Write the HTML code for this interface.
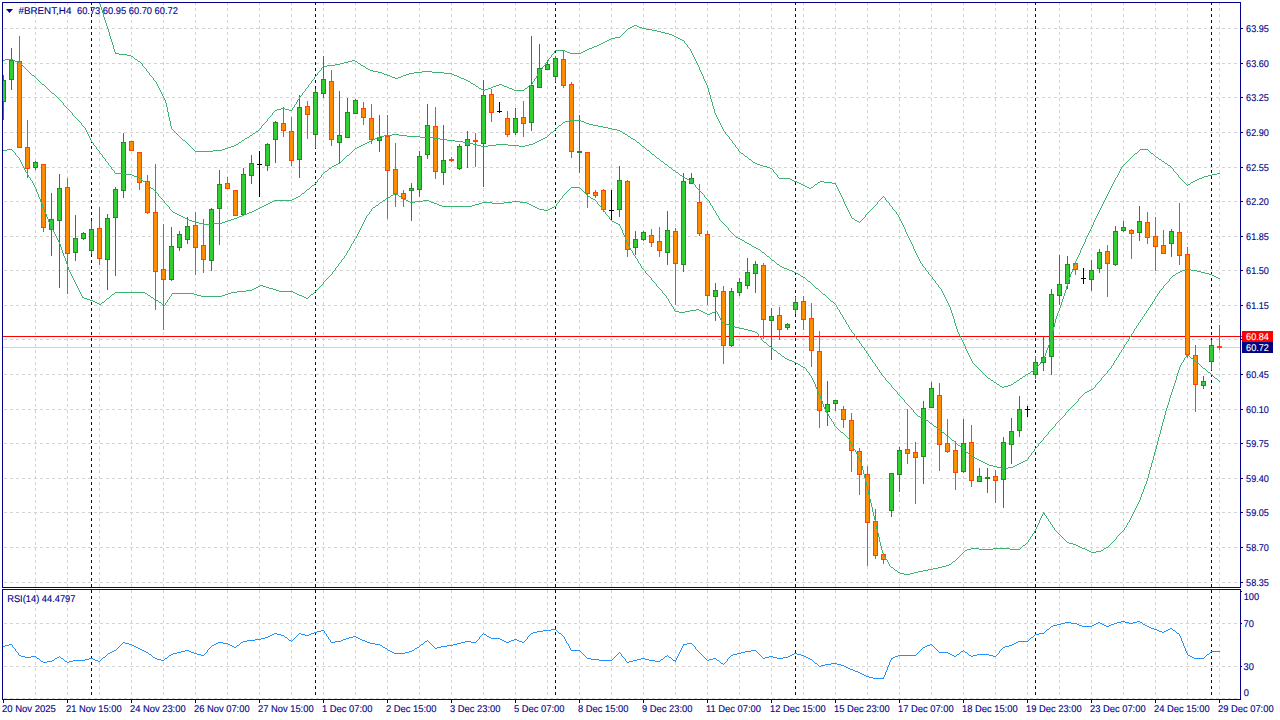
<!DOCTYPE html>
<html><head><meta charset="utf-8"><title>#BRENT,H4</title>
<style>html,body{margin:0;padding:0;background:#fff;overflow:hidden}svg{display:block}</style></head>
<body>
<svg width="1280" height="720" viewBox="0 0 1280 720">
<rect width="1280" height="720" fill="#fff"/>
<g shape-rendering="crispEdges">
<g stroke="#D3D3D3" stroke-width="1" stroke-dasharray="3 3" fill="none">
<path d="M35.5 2V698"/>
<path d="M67.5 2V698"/>
<path d="M99.5 2V698"/>
<path d="M131.5 2V698"/>
<path d="M163.5 2V698"/>
<path d="M195.5 2V698"/>
<path d="M227.5 2V698"/>
<path d="M259.5 2V698"/>
<path d="M291.5 2V698"/>
<path d="M323.5 2V698"/>
<path d="M355.5 2V698"/>
<path d="M387.5 2V698"/>
<path d="M419.5 2V698"/>
<path d="M451.5 2V698"/>
<path d="M483.5 2V698"/>
<path d="M515.5 2V698"/>
<path d="M547.5 2V698"/>
<path d="M579.5 2V698"/>
<path d="M611.5 2V698"/>
<path d="M643.5 2V698"/>
<path d="M675.5 2V698"/>
<path d="M707.5 2V698"/>
<path d="M739.5 2V698"/>
<path d="M771.5 2V698"/>
<path d="M803.5 2V698"/>
<path d="M835.5 2V698"/>
<path d="M867.5 2V698"/>
<path d="M899.5 2V698"/>
<path d="M931.5 2V698"/>
<path d="M963.5 2V698"/>
<path d="M995.5 2V698"/>
<path d="M1027.5 2V698"/>
<path d="M1059.5 2V698"/>
<path d="M1091.5 2V698"/>
<path d="M1123.5 2V698"/>
<path d="M1155.5 2V698"/>
<path d="M1187.5 2V698"/>
<path d="M1219.5 2V698"/>
<path d="M4 28.5H1240"/>
<path d="M4 63.5H1240"/>
<path d="M4 97.5H1240"/>
<path d="M4 132.5H1240"/>
<path d="M4 167.5H1240"/>
<path d="M4 201.5H1240"/>
<path d="M4 236.5H1240"/>
<path d="M4 270.5H1240"/>
<path d="M4 305.5H1240"/>
<path d="M4 339.5H1240"/>
<path d="M4 374.5H1240"/>
<path d="M4 409.5H1240"/>
<path d="M4 443.5H1240"/>
<path d="M4 478.5H1240"/>
<path d="M4 512.5H1240"/>
<path d="M4 547.5H1240"/>
<path d="M4 582.5H1240"/>
<path d="M4 623.5H1240"/>
<path d="M4 666.5H1240"/>
<path d="M4 698.5H1240"/>
</g>
<g stroke="#00008B" stroke-width="1" stroke-dasharray="3 3" fill="none">
<path d="M91.5 2V698"/>
<path d="M315.5 2V698"/>
<path d="M555.5 2V698"/>
<path d="M795.5 2V698"/>
<path d="M1035.5 2V698"/>
<path d="M1211.5 2V698"/>
</g>
<rect x="0" y="588" width="1280" height="1" fill="#fff"/>
<rect x="3" y="347" width="1237" height="1" fill="#D3D3D3"/>
<rect x="3" y="336" width="1239" height="1" fill="#FF0000"/>
<clipPath id="cm"><rect x="3" y="3" width="1237" height="584"/></clipPath>
<g clip-path="url(#cm)">
<rect x="3" y="75" width="1" height="45" fill="#228B22"/>
<rect x="1" y="80" width="5" height="22" fill="#228B22"/>
<rect x="2" y="81" width="3" height="20" fill="#32CD32"/>
<rect x="11" y="48" width="1" height="42" fill="#228B22"/>
<rect x="9" y="60" width="5" height="20" fill="#228B22"/>
<rect x="10" y="61" width="3" height="18" fill="#32CD32"/>
<rect x="19" y="36" width="1" height="112" fill="#FF4500"/>
<rect x="17" y="61" width="5" height="87" fill="#FF4500"/>
<rect x="18" y="62" width="3" height="85" fill="#FF8C00"/>
<rect x="27" y="120" width="1" height="58" fill="#FF4500"/>
<rect x="25" y="147" width="5" height="22" fill="#FF4500"/>
<rect x="26" y="148" width="3" height="20" fill="#FF8C00"/>
<rect x="35" y="161" width="1" height="9" fill="#228B22"/>
<rect x="33" y="162" width="5" height="6" fill="#228B22"/>
<rect x="34" y="163" width="3" height="4" fill="#32CD32"/>
<rect x="43" y="164" width="1" height="68" fill="#FF4500"/>
<rect x="41" y="164" width="5" height="64" fill="#FF4500"/>
<rect x="42" y="165" width="3" height="62" fill="#FF8C00"/>
<rect x="51" y="193" width="1" height="63" fill="#228B22"/>
<rect x="49" y="219" width="5" height="11" fill="#228B22"/>
<rect x="50" y="220" width="3" height="9" fill="#32CD32"/>
<rect x="59" y="174" width="1" height="114" fill="#228B22"/>
<rect x="57" y="188" width="5" height="33" fill="#228B22"/>
<rect x="58" y="189" width="3" height="31" fill="#32CD32"/>
<rect x="67" y="178" width="1" height="116" fill="#FF4500"/>
<rect x="65" y="187" width="5" height="67" fill="#FF4500"/>
<rect x="66" y="188" width="3" height="65" fill="#FF8C00"/>
<rect x="75" y="215" width="1" height="46" fill="#228B22"/>
<rect x="73" y="238" width="5" height="15" fill="#228B22"/>
<rect x="74" y="239" width="3" height="13" fill="#32CD32"/>
<rect x="83" y="232" width="1" height="8" fill="#228B22"/>
<rect x="81" y="233" width="5" height="6" fill="#228B22"/>
<rect x="82" y="234" width="3" height="4" fill="#32CD32"/>
<rect x="91" y="221" width="1" height="33" fill="#228B22"/>
<rect x="89" y="229" width="5" height="22" fill="#228B22"/>
<rect x="90" y="230" width="3" height="20" fill="#32CD32"/>
<rect x="99" y="207" width="1" height="58" fill="#FF4500"/>
<rect x="97" y="228" width="5" height="31" fill="#FF4500"/>
<rect x="98" y="229" width="3" height="29" fill="#FF8C00"/>
<rect x="107" y="214" width="1" height="76" fill="#228B22"/>
<rect x="105" y="218" width="5" height="42" fill="#228B22"/>
<rect x="106" y="219" width="3" height="40" fill="#32CD32"/>
<rect x="115" y="187" width="1" height="89" fill="#228B22"/>
<rect x="113" y="189" width="5" height="29" fill="#228B22"/>
<rect x="114" y="190" width="3" height="27" fill="#32CD32"/>
<rect x="123" y="133" width="1" height="65" fill="#228B22"/>
<rect x="121" y="142" width="5" height="49" fill="#228B22"/>
<rect x="122" y="143" width="3" height="47" fill="#32CD32"/>
<rect x="131" y="141" width="1" height="10" fill="#FF4500"/>
<rect x="129" y="141" width="5" height="10" fill="#FF4500"/>
<rect x="130" y="142" width="3" height="8" fill="#FF8C00"/>
<rect x="139" y="152" width="1" height="38" fill="#FF4500"/>
<rect x="137" y="152" width="5" height="31" fill="#FF4500"/>
<rect x="138" y="153" width="3" height="29" fill="#FF8C00"/>
<rect x="147" y="175" width="1" height="39" fill="#FF4500"/>
<rect x="145" y="181" width="5" height="32" fill="#FF4500"/>
<rect x="146" y="182" width="3" height="30" fill="#FF8C00"/>
<rect x="155" y="164" width="1" height="146" fill="#FF4500"/>
<rect x="153" y="212" width="5" height="60" fill="#FF4500"/>
<rect x="154" y="213" width="3" height="58" fill="#FF8C00"/>
<rect x="163" y="224" width="1" height="106" fill="#FF4500"/>
<rect x="161" y="269" width="5" height="11" fill="#FF4500"/>
<rect x="162" y="270" width="3" height="9" fill="#FF8C00"/>
<rect x="171" y="227" width="1" height="54" fill="#228B22"/>
<rect x="169" y="246" width="5" height="34" fill="#228B22"/>
<rect x="170" y="247" width="3" height="32" fill="#32CD32"/>
<rect x="179" y="231" width="1" height="20" fill="#228B22"/>
<rect x="177" y="234" width="5" height="14" fill="#228B22"/>
<rect x="178" y="235" width="3" height="12" fill="#32CD32"/>
<rect x="187" y="217" width="1" height="27" fill="#228B22"/>
<rect x="185" y="226" width="5" height="14" fill="#228B22"/>
<rect x="186" y="227" width="3" height="12" fill="#32CD32"/>
<rect x="195" y="212" width="1" height="63" fill="#FF4500"/>
<rect x="193" y="225" width="5" height="23" fill="#FF4500"/>
<rect x="194" y="226" width="3" height="21" fill="#FF8C00"/>
<rect x="203" y="219" width="1" height="54" fill="#FF4500"/>
<rect x="201" y="245" width="5" height="15" fill="#FF4500"/>
<rect x="202" y="246" width="3" height="13" fill="#FF8C00"/>
<rect x="211" y="208" width="1" height="63" fill="#228B22"/>
<rect x="209" y="209" width="5" height="52" fill="#228B22"/>
<rect x="210" y="210" width="3" height="50" fill="#32CD32"/>
<rect x="219" y="170" width="1" height="75" fill="#228B22"/>
<rect x="217" y="184" width="5" height="25" fill="#228B22"/>
<rect x="218" y="185" width="3" height="23" fill="#32CD32"/>
<rect x="227" y="177" width="1" height="12" fill="#FF4500"/>
<rect x="225" y="183" width="5" height="6" fill="#FF4500"/>
<rect x="226" y="184" width="3" height="4" fill="#FF8C00"/>
<rect x="235" y="190" width="1" height="26" fill="#FF4500"/>
<rect x="233" y="190" width="5" height="26" fill="#FF4500"/>
<rect x="234" y="191" width="3" height="24" fill="#FF8C00"/>
<rect x="243" y="168" width="1" height="47" fill="#228B22"/>
<rect x="241" y="174" width="5" height="41" fill="#228B22"/>
<rect x="242" y="175" width="3" height="39" fill="#32CD32"/>
<rect x="251" y="155" width="1" height="29" fill="#228B22"/>
<rect x="249" y="163" width="5" height="13" fill="#228B22"/>
<rect x="250" y="164" width="3" height="11" fill="#32CD32"/>
<rect x="259" y="151" width="1" height="46" fill="#000"/>
<rect x="257" y="164" width="5" height="1" fill="#000"/>
<rect x="267" y="143" width="1" height="28" fill="#228B22"/>
<rect x="265" y="144" width="5" height="22" fill="#228B22"/>
<rect x="266" y="145" width="3" height="20" fill="#32CD32"/>
<rect x="275" y="121" width="1" height="42" fill="#228B22"/>
<rect x="273" y="122" width="5" height="18" fill="#228B22"/>
<rect x="274" y="123" width="3" height="16" fill="#32CD32"/>
<rect x="283" y="107" width="1" height="30" fill="#FF4500"/>
<rect x="281" y="123" width="5" height="8" fill="#FF4500"/>
<rect x="282" y="124" width="3" height="6" fill="#FF8C00"/>
<rect x="291" y="117" width="1" height="49" fill="#FF4500"/>
<rect x="289" y="131" width="5" height="30" fill="#FF4500"/>
<rect x="290" y="132" width="3" height="28" fill="#FF8C00"/>
<rect x="299" y="95" width="1" height="83" fill="#228B22"/>
<rect x="297" y="107" width="5" height="53" fill="#228B22"/>
<rect x="298" y="108" width="3" height="51" fill="#32CD32"/>
<rect x="307" y="101" width="1" height="38" fill="#FF4500"/>
<rect x="305" y="106" width="5" height="9" fill="#FF4500"/>
<rect x="306" y="107" width="3" height="7" fill="#FF8C00"/>
<rect x="315" y="89" width="1" height="59" fill="#228B22"/>
<rect x="313" y="92" width="5" height="43" fill="#228B22"/>
<rect x="314" y="93" width="3" height="41" fill="#32CD32"/>
<rect x="323" y="56" width="1" height="42" fill="#228B22"/>
<rect x="321" y="79" width="5" height="15" fill="#228B22"/>
<rect x="322" y="80" width="3" height="13" fill="#32CD32"/>
<rect x="331" y="70" width="1" height="76" fill="#FF4500"/>
<rect x="329" y="81" width="5" height="59" fill="#FF4500"/>
<rect x="330" y="82" width="3" height="57" fill="#FF8C00"/>
<rect x="339" y="91" width="1" height="72" fill="#228B22"/>
<rect x="337" y="135" width="5" height="8" fill="#228B22"/>
<rect x="338" y="136" width="3" height="6" fill="#32CD32"/>
<rect x="347" y="98" width="1" height="40" fill="#228B22"/>
<rect x="345" y="112" width="5" height="26" fill="#228B22"/>
<rect x="346" y="113" width="3" height="24" fill="#32CD32"/>
<rect x="355" y="99" width="1" height="15" fill="#228B22"/>
<rect x="353" y="100" width="5" height="14" fill="#228B22"/>
<rect x="354" y="101" width="3" height="12" fill="#32CD32"/>
<rect x="363" y="102" width="1" height="23" fill="#FF4500"/>
<rect x="361" y="108" width="5" height="10" fill="#FF4500"/>
<rect x="362" y="109" width="3" height="8" fill="#FF8C00"/>
<rect x="371" y="104" width="1" height="40" fill="#FF4500"/>
<rect x="369" y="118" width="5" height="22" fill="#FF4500"/>
<rect x="370" y="119" width="3" height="20" fill="#FF8C00"/>
<rect x="379" y="115" width="1" height="37" fill="#228B22"/>
<rect x="377" y="137" width="5" height="4" fill="#228B22"/>
<rect x="378" y="138" width="3" height="2" fill="#32CD32"/>
<rect x="387" y="115" width="1" height="104" fill="#FF4500"/>
<rect x="385" y="136" width="5" height="35" fill="#FF4500"/>
<rect x="386" y="137" width="3" height="33" fill="#FF8C00"/>
<rect x="395" y="143" width="1" height="64" fill="#FF4500"/>
<rect x="393" y="169" width="5" height="25" fill="#FF4500"/>
<rect x="394" y="170" width="3" height="23" fill="#FF8C00"/>
<rect x="403" y="190" width="1" height="17" fill="#FF4500"/>
<rect x="401" y="193" width="5" height="6" fill="#FF4500"/>
<rect x="402" y="194" width="3" height="4" fill="#FF8C00"/>
<rect x="411" y="183" width="1" height="38" fill="#228B22"/>
<rect x="409" y="188" width="5" height="3" fill="#228B22"/>
<rect x="410" y="189" width="3" height="1" fill="#32CD32"/>
<rect x="419" y="151" width="1" height="46" fill="#228B22"/>
<rect x="417" y="156" width="5" height="34" fill="#228B22"/>
<rect x="418" y="157" width="3" height="32" fill="#32CD32"/>
<rect x="427" y="104" width="1" height="55" fill="#228B22"/>
<rect x="425" y="125" width="5" height="30" fill="#228B22"/>
<rect x="426" y="126" width="3" height="28" fill="#32CD32"/>
<rect x="435" y="107" width="1" height="72" fill="#FF4500"/>
<rect x="433" y="126" width="5" height="46" fill="#FF4500"/>
<rect x="434" y="127" width="3" height="44" fill="#FF8C00"/>
<rect x="443" y="125" width="1" height="60" fill="#228B22"/>
<rect x="441" y="160" width="5" height="13" fill="#228B22"/>
<rect x="442" y="161" width="3" height="11" fill="#32CD32"/>
<rect x="451" y="157" width="1" height="5" fill="#FF4500"/>
<rect x="449" y="159" width="5" height="2" fill="#FF4500"/>
<rect x="459" y="144" width="1" height="26" fill="#228B22"/>
<rect x="457" y="146" width="5" height="23" fill="#228B22"/>
<rect x="458" y="147" width="3" height="21" fill="#32CD32"/>
<rect x="467" y="131" width="1" height="37" fill="#228B22"/>
<rect x="465" y="139" width="5" height="7" fill="#228B22"/>
<rect x="466" y="140" width="3" height="5" fill="#32CD32"/>
<rect x="475" y="133" width="1" height="34" fill="#FF4500"/>
<rect x="473" y="140" width="5" height="2" fill="#FF4500"/>
<rect x="483" y="80" width="1" height="107" fill="#228B22"/>
<rect x="481" y="95" width="5" height="49" fill="#228B22"/>
<rect x="482" y="96" width="3" height="47" fill="#32CD32"/>
<rect x="491" y="89" width="1" height="33" fill="#FF4500"/>
<rect x="489" y="94" width="5" height="19" fill="#FF4500"/>
<rect x="490" y="95" width="3" height="17" fill="#FF8C00"/>
<rect x="499" y="102" width="1" height="11" fill="#000"/>
<rect x="497" y="111" width="5" height="1" fill="#000"/>
<rect x="507" y="111" width="1" height="26" fill="#FF4500"/>
<rect x="505" y="118" width="5" height="17" fill="#FF4500"/>
<rect x="506" y="119" width="3" height="15" fill="#FF8C00"/>
<rect x="515" y="108" width="1" height="27" fill="#228B22"/>
<rect x="513" y="118" width="5" height="15" fill="#228B22"/>
<rect x="514" y="119" width="3" height="13" fill="#32CD32"/>
<rect x="523" y="101" width="1" height="36" fill="#FF4500"/>
<rect x="521" y="117" width="5" height="7" fill="#FF4500"/>
<rect x="522" y="118" width="3" height="5" fill="#FF8C00"/>
<rect x="531" y="36" width="1" height="95" fill="#228B22"/>
<rect x="529" y="85" width="5" height="38" fill="#228B22"/>
<rect x="530" y="86" width="3" height="36" fill="#32CD32"/>
<rect x="539" y="44" width="1" height="44" fill="#228B22"/>
<rect x="537" y="68" width="5" height="20" fill="#228B22"/>
<rect x="538" y="69" width="3" height="18" fill="#32CD32"/>
<rect x="547" y="60" width="1" height="10" fill="#228B22"/>
<rect x="545" y="64" width="5" height="6" fill="#228B22"/>
<rect x="546" y="65" width="3" height="4" fill="#32CD32"/>
<rect x="555" y="56" width="1" height="26" fill="#228B22"/>
<rect x="553" y="58" width="5" height="19" fill="#228B22"/>
<rect x="554" y="59" width="3" height="17" fill="#32CD32"/>
<rect x="563" y="50" width="1" height="38" fill="#FF4500"/>
<rect x="561" y="59" width="5" height="27" fill="#FF4500"/>
<rect x="562" y="60" width="3" height="25" fill="#FF8C00"/>
<rect x="571" y="82" width="1" height="76" fill="#FF4500"/>
<rect x="569" y="84" width="5" height="68" fill="#FF4500"/>
<rect x="570" y="85" width="3" height="66" fill="#FF8C00"/>
<rect x="579" y="115" width="1" height="58" fill="#228B22"/>
<rect x="577" y="151" width="5" height="2" fill="#228B22"/>
<rect x="587" y="152" width="1" height="56" fill="#FF4500"/>
<rect x="585" y="152" width="5" height="42" fill="#FF4500"/>
<rect x="586" y="153" width="3" height="40" fill="#FF8C00"/>
<rect x="595" y="190" width="1" height="8" fill="#FF4500"/>
<rect x="593" y="192" width="5" height="4" fill="#FF4500"/>
<rect x="594" y="193" width="3" height="2" fill="#FF8C00"/>
<rect x="603" y="189" width="1" height="23" fill="#FF4500"/>
<rect x="601" y="190" width="5" height="20" fill="#FF4500"/>
<rect x="602" y="191" width="3" height="18" fill="#FF8C00"/>
<rect x="611" y="190" width="1" height="30" fill="#000"/>
<rect x="609" y="210" width="5" height="1" fill="#000"/>
<rect x="619" y="166" width="1" height="51" fill="#228B22"/>
<rect x="617" y="180" width="5" height="30" fill="#228B22"/>
<rect x="618" y="181" width="3" height="28" fill="#32CD32"/>
<rect x="627" y="180" width="1" height="77" fill="#FF4500"/>
<rect x="625" y="181" width="5" height="69" fill="#FF4500"/>
<rect x="626" y="182" width="3" height="67" fill="#FF8C00"/>
<rect x="635" y="231" width="1" height="24" fill="#228B22"/>
<rect x="633" y="239" width="5" height="9" fill="#228B22"/>
<rect x="634" y="240" width="3" height="7" fill="#32CD32"/>
<rect x="643" y="231" width="1" height="10" fill="#228B22"/>
<rect x="641" y="232" width="5" height="8" fill="#228B22"/>
<rect x="642" y="233" width="3" height="6" fill="#32CD32"/>
<rect x="651" y="229" width="1" height="18" fill="#FF4500"/>
<rect x="649" y="235" width="5" height="8" fill="#FF4500"/>
<rect x="650" y="236" width="3" height="6" fill="#FF8C00"/>
<rect x="659" y="227" width="1" height="30" fill="#FF4500"/>
<rect x="657" y="241" width="5" height="10" fill="#FF4500"/>
<rect x="658" y="242" width="3" height="8" fill="#FF8C00"/>
<rect x="667" y="211" width="1" height="54" fill="#228B22"/>
<rect x="665" y="230" width="5" height="23" fill="#228B22"/>
<rect x="666" y="231" width="3" height="21" fill="#32CD32"/>
<rect x="675" y="228" width="1" height="77" fill="#FF4500"/>
<rect x="673" y="231" width="5" height="33" fill="#FF4500"/>
<rect x="674" y="232" width="3" height="31" fill="#FF8C00"/>
<rect x="683" y="173" width="1" height="99" fill="#228B22"/>
<rect x="681" y="181" width="5" height="84" fill="#228B22"/>
<rect x="682" y="182" width="3" height="82" fill="#32CD32"/>
<rect x="691" y="173" width="1" height="11" fill="#228B22"/>
<rect x="689" y="178" width="5" height="6" fill="#228B22"/>
<rect x="690" y="179" width="3" height="4" fill="#32CD32"/>
<rect x="699" y="184" width="1" height="52" fill="#FF4500"/>
<rect x="697" y="202" width="5" height="32" fill="#FF4500"/>
<rect x="698" y="203" width="3" height="30" fill="#FF8C00"/>
<rect x="707" y="231" width="1" height="74" fill="#FF4500"/>
<rect x="705" y="234" width="5" height="62" fill="#FF4500"/>
<rect x="706" y="235" width="3" height="60" fill="#FF8C00"/>
<rect x="715" y="283" width="1" height="38" fill="#228B22"/>
<rect x="713" y="290" width="5" height="7" fill="#228B22"/>
<rect x="714" y="291" width="3" height="5" fill="#32CD32"/>
<rect x="723" y="286" width="1" height="78" fill="#FF4500"/>
<rect x="721" y="291" width="5" height="55" fill="#FF4500"/>
<rect x="722" y="292" width="3" height="53" fill="#FF8C00"/>
<rect x="731" y="288" width="1" height="59" fill="#228B22"/>
<rect x="729" y="291" width="5" height="55" fill="#228B22"/>
<rect x="730" y="292" width="3" height="53" fill="#32CD32"/>
<rect x="739" y="278" width="1" height="18" fill="#228B22"/>
<rect x="737" y="282" width="5" height="11" fill="#228B22"/>
<rect x="738" y="283" width="3" height="9" fill="#32CD32"/>
<rect x="747" y="258" width="1" height="31" fill="#228B22"/>
<rect x="745" y="272" width="5" height="14" fill="#228B22"/>
<rect x="746" y="273" width="3" height="12" fill="#32CD32"/>
<rect x="755" y="261" width="1" height="32" fill="#228B22"/>
<rect x="753" y="264" width="5" height="10" fill="#228B22"/>
<rect x="754" y="265" width="3" height="8" fill="#32CD32"/>
<rect x="763" y="263" width="1" height="76" fill="#FF4500"/>
<rect x="761" y="265" width="5" height="55" fill="#FF4500"/>
<rect x="762" y="266" width="3" height="53" fill="#FF8C00"/>
<rect x="771" y="308" width="1" height="52" fill="#228B22"/>
<rect x="769" y="316" width="5" height="5" fill="#228B22"/>
<rect x="770" y="317" width="3" height="3" fill="#32CD32"/>
<rect x="779" y="307" width="1" height="33" fill="#FF4500"/>
<rect x="777" y="315" width="5" height="15" fill="#FF4500"/>
<rect x="778" y="316" width="3" height="13" fill="#FF8C00"/>
<rect x="787" y="323" width="1" height="7" fill="#228B22"/>
<rect x="785" y="324" width="5" height="4" fill="#228B22"/>
<rect x="786" y="325" width="3" height="2" fill="#32CD32"/>
<rect x="795" y="297" width="1" height="17" fill="#228B22"/>
<rect x="793" y="302" width="5" height="8" fill="#228B22"/>
<rect x="794" y="303" width="3" height="6" fill="#32CD32"/>
<rect x="803" y="296" width="1" height="34" fill="#FF4500"/>
<rect x="801" y="301" width="5" height="19" fill="#FF4500"/>
<rect x="802" y="302" width="3" height="17" fill="#FF8C00"/>
<rect x="811" y="303" width="1" height="64" fill="#FF4500"/>
<rect x="809" y="318" width="5" height="33" fill="#FF4500"/>
<rect x="810" y="319" width="3" height="31" fill="#FF8C00"/>
<rect x="819" y="331" width="1" height="97" fill="#FF4500"/>
<rect x="817" y="351" width="5" height="60" fill="#FF4500"/>
<rect x="818" y="352" width="3" height="58" fill="#FF8C00"/>
<rect x="827" y="381" width="1" height="45" fill="#228B22"/>
<rect x="825" y="404" width="5" height="8" fill="#228B22"/>
<rect x="826" y="405" width="3" height="6" fill="#32CD32"/>
<rect x="835" y="400" width="1" height="11" fill="#228B22"/>
<rect x="833" y="400" width="5" height="4" fill="#228B22"/>
<rect x="834" y="401" width="3" height="2" fill="#32CD32"/>
<rect x="843" y="406" width="1" height="22" fill="#FF4500"/>
<rect x="841" y="409" width="5" height="11" fill="#FF4500"/>
<rect x="842" y="410" width="3" height="9" fill="#FF8C00"/>
<rect x="851" y="413" width="1" height="59" fill="#FF4500"/>
<rect x="849" y="420" width="5" height="31" fill="#FF4500"/>
<rect x="850" y="421" width="3" height="29" fill="#FF8C00"/>
<rect x="859" y="448" width="1" height="47" fill="#FF4500"/>
<rect x="857" y="451" width="5" height="24" fill="#FF4500"/>
<rect x="858" y="452" width="3" height="22" fill="#FF8C00"/>
<rect x="867" y="466" width="1" height="100" fill="#FF4500"/>
<rect x="865" y="474" width="5" height="49" fill="#FF4500"/>
<rect x="866" y="475" width="3" height="47" fill="#FF8C00"/>
<rect x="875" y="509" width="1" height="50" fill="#FF4500"/>
<rect x="873" y="521" width="5" height="35" fill="#FF4500"/>
<rect x="874" y="522" width="3" height="33" fill="#FF8C00"/>
<rect x="883" y="554" width="1" height="10" fill="#FF4500"/>
<rect x="881" y="554" width="5" height="6" fill="#FF4500"/>
<rect x="882" y="555" width="3" height="4" fill="#FF8C00"/>
<rect x="891" y="473" width="1" height="44" fill="#228B22"/>
<rect x="889" y="473" width="5" height="38" fill="#228B22"/>
<rect x="890" y="474" width="3" height="36" fill="#32CD32"/>
<rect x="899" y="447" width="1" height="45" fill="#228B22"/>
<rect x="897" y="450" width="5" height="25" fill="#228B22"/>
<rect x="898" y="451" width="3" height="23" fill="#32CD32"/>
<rect x="907" y="409" width="1" height="55" fill="#FF4500"/>
<rect x="905" y="449" width="5" height="5" fill="#FF4500"/>
<rect x="906" y="450" width="3" height="3" fill="#FF8C00"/>
<rect x="915" y="442" width="1" height="62" fill="#FF4500"/>
<rect x="913" y="452" width="5" height="6" fill="#FF4500"/>
<rect x="914" y="453" width="3" height="4" fill="#FF8C00"/>
<rect x="923" y="401" width="1" height="83" fill="#228B22"/>
<rect x="921" y="408" width="5" height="49" fill="#228B22"/>
<rect x="922" y="409" width="3" height="47" fill="#32CD32"/>
<rect x="931" y="382" width="1" height="26" fill="#228B22"/>
<rect x="929" y="388" width="5" height="20" fill="#228B22"/>
<rect x="930" y="389" width="3" height="18" fill="#32CD32"/>
<rect x="939" y="383" width="1" height="88" fill="#FF4500"/>
<rect x="937" y="395" width="5" height="50" fill="#FF4500"/>
<rect x="938" y="396" width="3" height="48" fill="#FF8C00"/>
<rect x="947" y="419" width="1" height="34" fill="#FF4500"/>
<rect x="945" y="443" width="5" height="9" fill="#FF4500"/>
<rect x="946" y="444" width="3" height="7" fill="#FF8C00"/>
<rect x="955" y="441" width="1" height="49" fill="#FF4500"/>
<rect x="953" y="450" width="5" height="23" fill="#FF4500"/>
<rect x="954" y="451" width="3" height="21" fill="#FF8C00"/>
<rect x="963" y="419" width="1" height="54" fill="#228B22"/>
<rect x="961" y="443" width="5" height="29" fill="#228B22"/>
<rect x="962" y="444" width="3" height="27" fill="#32CD32"/>
<rect x="971" y="425" width="1" height="62" fill="#FF4500"/>
<rect x="969" y="442" width="5" height="39" fill="#FF4500"/>
<rect x="970" y="443" width="3" height="37" fill="#FF8C00"/>
<rect x="979" y="468" width="1" height="14" fill="#228B22"/>
<rect x="977" y="476" width="5" height="6" fill="#228B22"/>
<rect x="978" y="477" width="3" height="4" fill="#32CD32"/>
<rect x="987" y="468" width="1" height="25" fill="#228B22"/>
<rect x="985" y="477" width="5" height="2" fill="#228B22"/>
<rect x="995" y="470" width="1" height="33" fill="#FF4500"/>
<rect x="993" y="476" width="5" height="5" fill="#FF4500"/>
<rect x="994" y="477" width="3" height="3" fill="#FF8C00"/>
<rect x="1003" y="437" width="1" height="71" fill="#228B22"/>
<rect x="1001" y="442" width="5" height="38" fill="#228B22"/>
<rect x="1002" y="443" width="3" height="36" fill="#32CD32"/>
<rect x="1011" y="418" width="1" height="46" fill="#228B22"/>
<rect x="1009" y="431" width="5" height="14" fill="#228B22"/>
<rect x="1010" y="432" width="3" height="12" fill="#32CD32"/>
<rect x="1019" y="396" width="1" height="41" fill="#228B22"/>
<rect x="1017" y="409" width="5" height="22" fill="#228B22"/>
<rect x="1018" y="410" width="3" height="20" fill="#32CD32"/>
<rect x="1027" y="406" width="1" height="11" fill="#000"/>
<rect x="1025" y="409" width="5" height="1" fill="#000"/>
<rect x="1035" y="356" width="1" height="23" fill="#228B22"/>
<rect x="1033" y="362" width="5" height="13" fill="#228B22"/>
<rect x="1034" y="363" width="3" height="11" fill="#32CD32"/>
<rect x="1043" y="337" width="1" height="34" fill="#228B22"/>
<rect x="1041" y="357" width="5" height="6" fill="#228B22"/>
<rect x="1042" y="358" width="3" height="4" fill="#32CD32"/>
<rect x="1051" y="289" width="1" height="86" fill="#228B22"/>
<rect x="1049" y="294" width="5" height="63" fill="#228B22"/>
<rect x="1050" y="295" width="3" height="61" fill="#32CD32"/>
<rect x="1059" y="255" width="1" height="50" fill="#228B22"/>
<rect x="1057" y="284" width="5" height="12" fill="#228B22"/>
<rect x="1058" y="285" width="3" height="10" fill="#32CD32"/>
<rect x="1067" y="256" width="1" height="33" fill="#228B22"/>
<rect x="1065" y="264" width="5" height="20" fill="#228B22"/>
<rect x="1066" y="265" width="3" height="18" fill="#32CD32"/>
<rect x="1075" y="263" width="1" height="12" fill="#FF4500"/>
<rect x="1073" y="263" width="5" height="7" fill="#FF4500"/>
<rect x="1074" y="264" width="3" height="5" fill="#FF8C00"/>
<rect x="1083" y="268" width="1" height="16" fill="#000"/>
<rect x="1081" y="278" width="5" height="1" fill="#000"/>
<rect x="1091" y="260" width="1" height="31" fill="#228B22"/>
<rect x="1089" y="270" width="5" height="10" fill="#228B22"/>
<rect x="1090" y="271" width="3" height="8" fill="#32CD32"/>
<rect x="1099" y="249" width="1" height="24" fill="#228B22"/>
<rect x="1097" y="252" width="5" height="17" fill="#228B22"/>
<rect x="1098" y="253" width="3" height="15" fill="#32CD32"/>
<rect x="1107" y="245" width="1" height="52" fill="#FF4500"/>
<rect x="1105" y="251" width="5" height="13" fill="#FF4500"/>
<rect x="1106" y="252" width="3" height="11" fill="#FF8C00"/>
<rect x="1115" y="226" width="1" height="40" fill="#228B22"/>
<rect x="1113" y="231" width="5" height="34" fill="#228B22"/>
<rect x="1114" y="232" width="3" height="32" fill="#32CD32"/>
<rect x="1123" y="221" width="1" height="11" fill="#228B22"/>
<rect x="1121" y="227" width="5" height="4" fill="#228B22"/>
<rect x="1122" y="228" width="3" height="2" fill="#32CD32"/>
<rect x="1131" y="229" width="1" height="30" fill="#FF4500"/>
<rect x="1129" y="230" width="5" height="4" fill="#FF4500"/>
<rect x="1130" y="231" width="3" height="2" fill="#FF8C00"/>
<rect x="1139" y="206" width="1" height="35" fill="#228B22"/>
<rect x="1137" y="221" width="5" height="12" fill="#228B22"/>
<rect x="1138" y="222" width="3" height="10" fill="#32CD32"/>
<rect x="1147" y="212" width="1" height="32" fill="#FF4500"/>
<rect x="1145" y="222" width="5" height="16" fill="#FF4500"/>
<rect x="1146" y="223" width="3" height="14" fill="#FF8C00"/>
<rect x="1155" y="217" width="1" height="54" fill="#FF4500"/>
<rect x="1153" y="236" width="5" height="11" fill="#FF4500"/>
<rect x="1154" y="237" width="3" height="9" fill="#FF8C00"/>
<rect x="1163" y="230" width="1" height="24" fill="#FF4500"/>
<rect x="1161" y="245" width="5" height="9" fill="#FF4500"/>
<rect x="1162" y="246" width="3" height="7" fill="#FF8C00"/>
<rect x="1171" y="229" width="1" height="28" fill="#228B22"/>
<rect x="1169" y="231" width="5" height="13" fill="#228B22"/>
<rect x="1170" y="232" width="3" height="11" fill="#32CD32"/>
<rect x="1179" y="203" width="1" height="62" fill="#FF4500"/>
<rect x="1177" y="232" width="5" height="24" fill="#FF4500"/>
<rect x="1178" y="233" width="3" height="22" fill="#FF8C00"/>
<rect x="1187" y="247" width="1" height="111" fill="#FF4500"/>
<rect x="1185" y="254" width="5" height="101" fill="#FF4500"/>
<rect x="1186" y="255" width="3" height="99" fill="#FF8C00"/>
<rect x="1195" y="345" width="1" height="67" fill="#FF4500"/>
<rect x="1193" y="355" width="5" height="30" fill="#FF4500"/>
<rect x="1194" y="356" width="3" height="28" fill="#FF8C00"/>
<rect x="1203" y="376" width="1" height="13" fill="#228B22"/>
<rect x="1201" y="381" width="5" height="5" fill="#228B22"/>
<rect x="1202" y="382" width="3" height="3" fill="#32CD32"/>
<rect x="1211" y="340" width="1" height="30" fill="#228B22"/>
<rect x="1209" y="345" width="5" height="17" fill="#228B22"/>
<rect x="1210" y="346" width="3" height="15" fill="#32CD32"/>
<rect x="1219" y="325" width="1" height="25" fill="#FF4500"/>
<rect x="1217" y="346" width="5" height="2" fill="#FF4500"/>
</g>
</g>
<path d="M634 25h3v1h-3zM632 26h2v1h-2zM637 26h2v1h-2zM630 27h2v1h-2zM639 27h3v1h-3zM628 28h2v1h-2zM642 28h4v1h-4zM646 29h6v1h-6zM652 30h5v1h-5zM657 31h4v1h-4zM661 32h4v1h-4zM665 33h4v1h-4zM669 34h3v1h-3zM672 35h2v1h-2zM674 36h2v1h-2zM615 37h5v1h-5zM676 37h2v1h-2zM611 38h4v1h-4zM678 38h2v1h-2zM609 39h2v1h-2zM680 39h2v1h-2zM607 40h2v1h-2zM682 40h2v1h-2zM605 41h2v1h-2zM603 42h2v1h-2zM601 43h2v1h-2zM599 44h2v1h-2zM597 45h2v1h-2zM594 46h3v1h-3zM592 47h2v1h-2zM589 48h3v1h-3zM587 49h2v1h-2zM555 50h10v1h-10zM585 50h2v1h-2zM565 51h2v1h-2zM583 51h2v1h-2zM567 52h3v1h-3zM581 52h2v1h-2zM115 53h4v1h-4zM570 53h11v1h-11zM119 54h8v1h-8zM127 55h4v1h-4zM131 56h2v1h-2zM135 59h2v1h-2zM352 60h3v1h-3zM138 61h2v1h-2zM348 61h4v1h-4zM355 61h2v1h-2zM344 62h4v1h-4zM340 63h4v1h-4zM358 63h2v1h-2zM335 64h5v1h-5zM327 65h8v1h-8zM361 65h2v1h-2zM323 66h4v1h-4zM363 66h2v1h-2zM366 68h2v1h-2zM368 69h2v1h-2zM370 70h3v1h-3zM373 71h5v1h-5zM422 71h10v1h-10zM378 72h4v1h-4zM414 72h8v1h-8zM432 72h12v1h-12zM382 73h2v1h-2zM409 73h5v1h-5zM444 73h8v1h-8zM384 74h3v1h-3zM406 74h3v1h-3zM452 74h2v1h-2zM387 75h3v1h-3zM403 75h3v1h-3zM454 75h3v1h-3zM390 76h2v1h-2zM401 76h2v1h-2zM457 76h2v1h-2zM392 77h3v1h-3zM398 77h3v1h-3zM459 77h2v1h-2zM395 78h3v1h-3zM461 78h3v1h-3zM464 79h2v1h-2zM466 80h2v1h-2zM468 81h2v1h-2zM471 83h2v1h-2zM473 84h2v1h-2zM499 84h3v1h-3zM496 85h3v1h-3zM502 85h2v1h-2zM529 85h2v1h-2zM476 86h2v1h-2zM493 86h3v1h-3zM504 86h3v1h-3zM491 87h2v1h-2zM507 87h2v1h-2zM479 88h2v1h-2zM488 88h3v1h-3zM509 88h3v1h-3zM525 88h2v1h-2zM481 89h2v1h-2zM485 89h3v1h-3zM512 89h2v1h-2zM483 90h2v1h-2zM514 90h10v1h-10zM281 108h4v1h-4zM277 109h4v1h-4zM285 109h4v1h-4zM275 110h2v1h-2zM289 110h3v1h-3zM256 131h2v1h-2zM253 133h2v1h-2zM250 135h2v1h-2zM247 137h2v1h-2zM245 138h2v1h-2zM183 140h2v1h-2zM242 140h2v1h-2zM239 142h2v1h-2zM236 144h2v1h-2zM234 145h2v1h-2zM231 146h3v1h-3zM228 147h3v1h-3zM225 148h3v1h-3zM222 149h3v1h-3zM1140 149h8v1h-8zM213 150h9v1h-9zM195 151h18v1h-18zM741 153h2v1h-2zM1135 153h2v1h-2zM1151 153h2v1h-2zM745 156h2v1h-2zM1156 157h2v1h-2zM749 159h2v1h-2zM1159 159h2v1h-2zM1162 161h2v1h-2zM753 162h2v1h-2zM755 163h2v1h-2zM1165 163h2v1h-2zM757 164h3v1h-3zM760 165h3v1h-3zM1168 165h2v1h-2zM763 166h4v1h-4zM767 167h3v1h-3zM770 168h2v1h-2zM1217 173h3v1h-3zM1212 174h5v1h-5zM1208 175h4v1h-4zM1204 176h4v1h-4zM1202 177h2v1h-2zM779 178h11v1h-11zM1199 178h3v1h-3zM790 179h2v1h-2zM1197 179h2v1h-2zM792 180h2v1h-2zM1195 180h2v1h-2zM794 181h3v1h-3zM820 181h4v1h-4zM1193 181h2v1h-2zM797 182h2v1h-2zM818 182h2v1h-2zM824 182h8v1h-8zM1191 182h2v1h-2zM799 183h2v1h-2zM832 183h4v1h-4zM801 184h2v1h-2zM815 184h2v1h-2zM1188 184h2v1h-2zM803 185h2v1h-2zM805 186h2v1h-2zM807 187h2v1h-2zM811 187h2v1h-2zM809 188h2v1h-2zM852 218h2v1h-2zM855 220h2v1h-2zM857 221h2v1h-2zM1033 370h2v1h-2zM1031 371h2v1h-2zM1028 373h2v1h-2zM1026 374h2v1h-2zM1023 376h2v1h-2zM988 378h2v1h-2zM1020 378h2v1h-2zM991 380h2v1h-2zM1017 380h2v1h-2zM994 382h2v1h-2zM1014 382h2v1h-2zM997 384h2v1h-2zM1011 384h2v1h-2zM1008 385h3v1h-3zM1000 386h2v1h-2zM1004 386h4v1h-4zM1002 387h2v1h-2zM99 2h1v2h-1zM100 4h1v3h-1zM101 7h1v3h-1zM102 10h1v3h-1zM103 13h1v4h-1zM104 17h1v3h-1zM105 20h1v3h-1zM106 23h1v3h-1zM107 26h1v3h-1zM108 29h1v3h-1zM109 32h1v4h-1zM110 36h1v3h-1zM111 39h1v3h-1zM112 42h1v3h-1zM113 45h1v4h-1zM114 49h1v3h-1zM115 52h1v1h-1zM133 57h1v1h-1zM134 58h1v1h-1zM137 60h1v1h-1zM140 62h1v1h-1zM141 63h1v1h-1zM142 64h1v2h-1zM143 66h1v1h-1zM144 67h1v1h-1zM145 68h1v1h-1zM146 69h1v2h-1zM147 71h1v1h-1zM148 72h1v1h-1zM149 73h1v2h-1zM150 75h1v1h-1zM151 76h1v1h-1zM152 77h1v1h-1zM153 78h1v2h-1zM154 80h1v1h-1zM155 81h1v1h-1zM156 82h1v2h-1zM157 84h1v2h-1zM158 86h1v2h-1zM159 88h1v2h-1zM160 90h1v2h-1zM161 92h1v2h-1zM162 94h1v2h-1zM163 96h1v2h-1zM164 98h1v2h-1zM165 100h1v3h-1zM166 103h1v4h-1zM167 107h1v5h-1zM168 112h1v5h-1zM169 117h1v4h-1zM170 121h1v5h-1zM171 126h1v3h-1zM172 129h1v1h-1zM173 130h1v1h-1zM174 131h1v1h-1zM175 132h1v1h-1zM176 133h1v1h-1zM177 134h1v1h-1zM178 135h1v1h-1zM179 136h1v1h-1zM180 137h1v1h-1zM181 138h1v1h-1zM182 139h1v1h-1zM185 141h1v1h-1zM186 142h1v1h-1zM187 143h1v1h-1zM188 144h1v1h-1zM189 145h1v1h-1zM190 146h1v1h-1zM191 147h1v1h-1zM192 148h1v1h-1zM193 149h1v1h-1zM194 150h1v1h-1zM238 143h1v1h-1zM241 141h1v1h-1zM244 139h1v1h-1zM249 136h1v1h-1zM252 134h1v1h-1zM255 132h1v1h-1zM258 130h1v1h-1zM259 129h1v1h-1zM260 128h1v1h-1zM261 126h1v2h-1zM262 125h1v1h-1zM263 124h1v1h-1zM264 123h1v1h-1zM265 122h1v1h-1zM266 121h1v1h-1zM267 119h1v2h-1zM268 118h1v1h-1zM269 117h1v1h-1zM270 116h1v1h-1zM271 115h1v1h-1zM272 113h1v2h-1zM273 112h1v1h-1zM274 111h1v1h-1zM292 108h1v2h-1zM293 107h1v1h-1zM294 105h1v2h-1zM295 104h1v1h-1zM296 102h1v2h-1zM297 100h1v2h-1zM298 99h1v1h-1zM299 97h1v2h-1zM300 96h1v1h-1zM301 95h1v1h-1zM302 93h1v2h-1zM303 92h1v1h-1zM304 91h1v1h-1zM305 89h1v2h-1zM306 88h1v1h-1zM307 87h1v1h-1zM308 85h1v2h-1zM309 84h1v1h-1zM310 83h1v1h-1zM311 81h1v2h-1zM312 80h1v1h-1zM313 79h1v1h-1zM314 77h1v2h-1zM315 76h1v1h-1zM316 75h1v1h-1zM317 73h1v2h-1zM318 72h1v1h-1zM319 71h1v1h-1zM320 70h1v1h-1zM321 68h1v2h-1zM322 67h1v1h-1zM357 62h1v1h-1zM360 64h1v1h-1zM365 67h1v1h-1zM470 82h1v1h-1zM475 85h1v1h-1zM478 87h1v1h-1zM524 89h1v1h-1zM527 87h1v1h-1zM528 86h1v1h-1zM531 84h1v1h-1zM532 82h1v2h-1zM533 81h1v1h-1zM534 79h1v2h-1zM535 78h1v1h-1zM536 76h1v2h-1zM537 74h1v2h-1zM538 73h1v1h-1zM539 71h1v2h-1zM540 70h1v1h-1zM541 69h1v1h-1zM542 67h1v2h-1zM543 66h1v1h-1zM544 65h1v1h-1zM545 63h1v2h-1zM546 62h1v1h-1zM547 61h1v1h-1zM548 59h1v2h-1zM549 58h1v1h-1zM550 57h1v1h-1zM551 55h1v2h-1zM552 54h1v1h-1zM553 53h1v1h-1zM554 51h1v2h-1zM620 36h1v1h-1zM621 35h1v1h-1zM622 34h1v1h-1zM623 33h1v1h-1zM624 32h1v1h-1zM625 31h1v1h-1zM626 30h1v1h-1zM627 29h1v1h-1zM684 41h1v2h-1zM685 43h1v1h-1zM686 44h1v1h-1zM687 45h1v2h-1zM688 47h1v1h-1zM689 48h1v1h-1zM690 49h1v2h-1zM691 51h1v2h-1zM692 53h1v2h-1zM693 55h1v2h-1zM694 57h1v2h-1zM695 59h1v2h-1zM696 61h1v2h-1zM697 63h1v2h-1zM698 65h1v2h-1zM699 67h1v3h-1zM700 70h1v2h-1zM701 72h1v2h-1zM702 74h1v2h-1zM703 76h1v3h-1zM704 79h1v2h-1zM705 81h1v2h-1zM706 83h1v2h-1zM707 85h1v3h-1zM708 88h1v4h-1zM709 92h1v3h-1zM710 95h1v4h-1zM711 99h1v3h-1zM712 102h1v4h-1zM713 106h1v3h-1zM714 109h1v4h-1zM715 113h1v2h-1zM716 115h1v2h-1zM717 117h1v2h-1zM718 119h1v2h-1zM719 121h1v2h-1zM720 123h1v2h-1zM721 125h1v2h-1zM722 127h1v2h-1zM723 129h1v2h-1zM724 131h1v1h-1zM725 132h1v2h-1zM726 134h1v1h-1zM727 135h1v1h-1zM728 136h1v1h-1zM729 137h1v2h-1zM730 139h1v1h-1zM731 140h1v1h-1zM732 141h1v2h-1zM733 143h1v1h-1zM734 144h1v1h-1zM735 145h1v2h-1zM736 147h1v1h-1zM737 148h1v1h-1zM738 149h1v2h-1zM739 151h1v1h-1zM740 152h1v1h-1zM743 154h1v1h-1zM744 155h1v1h-1zM747 157h1v1h-1zM748 158h1v1h-1zM751 160h1v1h-1zM752 161h1v1h-1zM772 169h1v1h-1zM773 170h1v2h-1zM774 172h1v1h-1zM775 173h1v1h-1zM776 174h1v1h-1zM777 175h1v2h-1zM778 177h1v1h-1zM813 186h1v1h-1zM814 185h1v1h-1zM817 183h1v1h-1zM835 184h1v1h-1zM836 185h1v2h-1zM837 187h1v2h-1zM838 189h1v2h-1zM839 191h1v2h-1zM840 193h1v2h-1zM841 195h1v2h-1zM842 197h1v2h-1zM843 199h1v3h-1zM844 202h1v2h-1zM845 204h1v2h-1zM846 206h1v2h-1zM847 208h1v2h-1zM848 210h1v2h-1zM849 212h1v2h-1zM850 214h1v2h-1zM851 216h1v2h-1zM854 219h1v1h-1zM859 222h1v1h-1zM860 221h1v1h-1zM861 220h1v1h-1zM862 219h1v1h-1zM863 218h1v1h-1zM864 217h1v1h-1zM865 215h1v2h-1zM866 214h1v1h-1zM867 213h1v1h-1zM868 212h1v1h-1zM869 211h1v1h-1zM870 210h1v1h-1zM871 209h1v1h-1zM872 208h1v1h-1zM873 207h1v1h-1zM874 206h1v1h-1zM875 205h1v1h-1zM876 204h1v1h-1zM877 202h1v2h-1zM878 201h1v1h-1zM879 200h1v1h-1zM880 199h1v1h-1zM881 198h1v1h-1zM882 197h1v1h-1zM883 196h1v1h-1zM884 197h1v1h-1zM885 198h1v2h-1zM886 200h1v1h-1zM887 201h1v1h-1zM888 202h1v1h-1zM889 203h1v2h-1zM890 205h1v1h-1zM891 206h1v1h-1zM892 207h1v2h-1zM893 209h1v1h-1zM894 210h1v1h-1zM895 211h1v1h-1zM896 212h1v2h-1zM897 214h1v1h-1zM898 215h1v2h-1zM899 217h1v2h-1zM900 219h1v2h-1zM901 221h1v2h-1zM902 223h1v2h-1zM903 225h1v2h-1zM904 227h1v2h-1zM905 229h1v3h-1zM906 232h1v2h-1zM907 234h1v2h-1zM908 236h1v2h-1zM909 238h1v2h-1zM910 240h1v2h-1zM911 242h1v2h-1zM912 244h1v2h-1zM913 246h1v3h-1zM914 249h1v2h-1zM915 251h1v2h-1zM916 253h1v2h-1zM917 255h1v2h-1zM918 257h1v2h-1zM919 259h1v2h-1zM920 261h1v2h-1zM921 263h1v1h-1zM922 264h1v2h-1zM923 266h1v1h-1zM924 267h1v1h-1zM925 268h1v2h-1zM926 270h1v1h-1zM927 271h1v1h-1zM928 272h1v2h-1zM929 274h1v1h-1zM930 275h1v1h-1zM931 276h1v1h-1zM932 277h1v2h-1zM933 279h1v1h-1zM934 280h1v1h-1zM935 281h1v2h-1zM936 283h1v1h-1zM937 284h1v1h-1zM938 285h1v2h-1zM939 287h1v1h-1zM940 288h1v1h-1zM941 289h1v2h-1zM942 291h1v2h-1zM943 293h1v2h-1zM944 295h1v2h-1zM945 297h1v2h-1zM946 299h1v2h-1zM947 301h1v2h-1zM948 303h1v2h-1zM949 305h1v2h-1zM950 307h1v3h-1zM951 310h1v3h-1zM952 313h1v3h-1zM953 316h1v3h-1zM954 319h1v4h-1zM955 323h1v3h-1zM956 326h1v3h-1zM957 329h1v3h-1zM958 332h1v2h-1zM959 334h1v2h-1zM960 336h1v2h-1zM961 338h1v2h-1zM962 340h1v2h-1zM963 342h1v2h-1zM964 344h1v2h-1zM965 346h1v3h-1zM966 349h1v2h-1zM967 351h1v2h-1zM968 353h1v2h-1zM969 355h1v2h-1zM970 357h1v2h-1zM971 359h1v2h-1zM972 361h1v2h-1zM973 363h1v1h-1zM974 364h1v1h-1zM975 365h1v1h-1zM976 366h1v1h-1zM977 367h1v1h-1zM978 368h1v1h-1zM979 369h1v1h-1zM980 370h1v1h-1zM981 371h1v1h-1zM982 372h1v1h-1zM983 373h1v1h-1zM984 374h1v1h-1zM985 375h1v1h-1zM986 376h1v1h-1zM987 377h1v1h-1zM990 379h1v1h-1zM993 381h1v1h-1zM996 383h1v1h-1zM999 385h1v1h-1zM1013 383h1v1h-1zM1016 381h1v1h-1zM1019 379h1v1h-1zM1022 377h1v1h-1zM1025 375h1v1h-1zM1030 372h1v1h-1zM1035 369h1v1h-1zM1036 368h1v1h-1zM1037 366h1v2h-1zM1038 365h1v1h-1zM1039 364h1v1h-1zM1040 362h1v2h-1zM1041 361h1v1h-1zM1042 360h1v1h-1zM1043 358h1v2h-1zM1044 356h1v2h-1zM1045 353h1v3h-1zM1046 350h1v3h-1zM1047 348h1v2h-1zM1048 345h1v3h-1zM1049 342h1v3h-1zM1050 339h1v3h-1zM1051 335h1v4h-1zM1052 331h1v4h-1zM1053 327h1v4h-1zM1054 323h1v4h-1zM1055 319h1v4h-1zM1056 316h1v3h-1zM1057 313h1v3h-1zM1058 311h1v2h-1zM1059 308h1v3h-1zM1060 305h1v3h-1zM1061 302h1v3h-1zM1062 299h1v3h-1zM1063 296h1v3h-1zM1064 293h1v3h-1zM1065 290h1v3h-1zM1066 286h1v4h-1zM1067 283h1v3h-1zM1068 280h1v3h-1zM1069 277h1v3h-1zM1070 274h1v3h-1zM1071 272h1v2h-1zM1072 269h1v3h-1zM1073 266h1v3h-1zM1074 264h1v2h-1zM1075 261h1v3h-1zM1076 259h1v2h-1zM1077 257h1v2h-1zM1078 255h1v2h-1zM1079 253h1v2h-1zM1080 250h1v3h-1zM1081 248h1v2h-1zM1082 246h1v2h-1zM1083 244h1v2h-1zM1084 242h1v2h-1zM1085 239h1v3h-1zM1086 237h1v2h-1zM1087 235h1v2h-1zM1088 233h1v2h-1zM1089 231h1v2h-1zM1090 229h1v2h-1zM1091 227h1v2h-1zM1092 225h1v2h-1zM1093 222h1v3h-1zM1094 220h1v2h-1zM1095 218h1v2h-1zM1096 216h1v2h-1zM1097 214h1v2h-1zM1098 212h1v2h-1zM1099 210h1v2h-1zM1100 208h1v2h-1zM1101 206h1v2h-1zM1102 204h1v2h-1zM1103 202h1v2h-1zM1104 200h1v2h-1zM1105 198h1v2h-1zM1106 196h1v2h-1zM1107 194h1v2h-1zM1108 192h1v2h-1zM1109 190h1v2h-1zM1110 188h1v2h-1zM1111 186h1v2h-1zM1112 184h1v2h-1zM1113 182h1v2h-1zM1114 180h1v2h-1zM1115 178h1v2h-1zM1116 177h1v1h-1zM1117 175h1v2h-1zM1118 173h1v2h-1zM1119 171h1v2h-1zM1120 169h1v2h-1zM1121 167h1v2h-1zM1122 166h1v1h-1zM1123 165h1v1h-1zM1124 164h1v1h-1zM1125 163h1v1h-1zM1126 162h1v1h-1zM1127 161h1v1h-1zM1128 160h1v1h-1zM1129 159h1v1h-1zM1130 158h1v1h-1zM1131 157h1v1h-1zM1132 156h1v1h-1zM1133 155h1v1h-1zM1134 154h1v1h-1zM1137 152h1v1h-1zM1138 151h1v1h-1zM1139 150h1v1h-1zM1148 150h1v1h-1zM1149 151h1v1h-1zM1150 152h1v1h-1zM1153 154h1v1h-1zM1154 155h1v1h-1zM1155 156h1v1h-1zM1158 158h1v1h-1zM1161 160h1v1h-1zM1164 162h1v1h-1zM1167 164h1v1h-1zM1170 166h1v1h-1zM1171 167h1v1h-1zM1172 168h1v1h-1zM1173 169h1v2h-1zM1174 171h1v1h-1zM1175 172h1v1h-1zM1176 173h1v1h-1zM1177 174h1v1h-1zM1178 175h1v2h-1zM1179 177h1v1h-1zM1180 178h1v1h-1zM1181 179h1v1h-1zM1182 180h1v1h-1zM1183 181h1v1h-1zM1184 182h1v1h-1zM1185 183h1v1h-1zM1186 184h1v1h-1zM1187 185h1v1h-1zM1190 183h1v1h-1z" fill="#3CB371" shape-rendering="crispEdges"/>
<path d="M5 59h8v1h-8zM2 60h3v1h-3zM13 60h2v1h-2zM15 61h3v1h-3zM18 62h2v1h-2zM32 75h2v1h-2zM42 84h2v1h-2zM52 93h2v1h-2zM569 120h12v1h-12zM565 121h4v1h-4zM581 121h3v1h-3zM563 122h2v1h-2zM584 122h2v1h-2zM586 123h3v1h-3zM589 124h4v1h-4zM559 125h2v1h-2zM593 125h5v1h-5zM598 126h5v1h-5zM603 127h5v1h-5zM608 128h4v1h-4zM612 129h5v1h-5zM617 130h3v1h-3zM620 131h2v1h-2zM551 132h2v1h-2zM623 133h2v1h-2zM392 134h7v1h-7zM625 134h2v1h-2zM384 135h8v1h-8zM399 135h8v1h-8zM379 136h5v1h-5zM407 136h13v1h-13zM628 136h2v1h-2zM377 137h2v1h-2zM420 137h14v1h-14zM545 137h2v1h-2zM375 138h2v1h-2zM434 138h6v1h-6zM543 138h2v1h-2zM631 138h2v1h-2zM373 139h2v1h-2zM440 139h7v1h-7zM541 139h2v1h-2zM633 139h2v1h-2zM371 140h2v1h-2zM447 140h8v1h-8zM539 140h2v1h-2zM369 141h2v1h-2zM455 141h8v1h-8zM537 141h2v1h-2zM367 142h2v1h-2zM463 142h6v1h-6zM535 142h2v1h-2zM637 142h2v1h-2zM365 143h2v1h-2zM469 143h4v1h-4zM533 143h2v1h-2zM363 144h2v1h-2zM473 144h4v1h-4zM496 144h12v1h-12zM529 144h4v1h-4zM361 145h2v1h-2zM477 145h4v1h-4zM488 145h8v1h-8zM508 145h11v1h-11zM525 145h4v1h-4zM359 146h2v1h-2zM481 146h7v1h-7zM519 146h6v1h-6zM642 146h2v1h-2zM357 147h2v1h-2zM355 148h2v1h-2zM647 150h2v1h-2zM652 154h2v1h-2zM347 155h2v1h-2zM657 158h2v1h-2zM661 161h2v1h-2zM338 163h2v1h-2zM336 164h2v1h-2zM665 164h2v1h-2zM334 165h2v1h-2zM332 166h2v1h-2zM669 167h2v1h-2zM329 168h2v1h-2zM673 170h2v1h-2zM325 171h2v1h-2zM676 172h2v1h-2zM115 173h8v1h-8zM123 174h9v1h-9zM132 175h2v1h-2zM680 175h2v1h-2zM134 176h3v1h-3zM137 177h2v1h-2zM683 177h2v1h-2zM139 178h2v1h-2zM685 178h2v1h-2zM687 179h2v1h-2zM689 180h2v1h-2zM143 181h2v1h-2zM312 185h2v1h-2zM151 188h2v1h-2zM307 189h2v1h-2zM302 193h2v1h-2zM298 196h2v1h-2zM296 197h2v1h-2zM294 198h2v1h-2zM292 199h2v1h-2zM274 200h18v1h-18zM272 201h2v1h-2zM270 202h2v1h-2zM268 203h2v1h-2zM266 204h2v1h-2zM264 205h2v1h-2zM262 206h2v1h-2zM260 207h2v1h-2zM258 208h2v1h-2zM256 209h2v1h-2zM254 210h2v1h-2zM252 211h2v1h-2zM173 212h2v1h-2zM249 212h3v1h-3zM175 213h2v1h-2zM247 213h2v1h-2zM177 214h2v1h-2zM244 214h3v1h-3zM179 215h2v1h-2zM242 215h2v1h-2zM181 216h2v1h-2zM239 216h3v1h-3zM183 217h2v1h-2zM237 217h2v1h-2zM185 218h2v1h-2zM234 218h3v1h-3zM187 219h2v1h-2zM231 219h3v1h-3zM189 220h3v1h-3zM228 220h3v1h-3zM192 221h4v1h-4zM225 221h3v1h-3zM196 222h3v1h-3zM222 222h3v1h-3zM199 223h4v1h-4zM212 223h10v1h-10zM203 224h9v1h-9zM736 237h2v1h-2zM738 238h2v1h-2zM740 239h2v1h-2zM742 240h2v1h-2zM745 242h2v1h-2zM747 243h2v1h-2zM749 244h2v1h-2zM752 246h2v1h-2zM754 247h2v1h-2zM756 248h2v1h-2zM758 249h2v1h-2zM762 252h2v1h-2zM767 256h2v1h-2zM772 260h2v1h-2zM777 264h2v1h-2zM780 266h2v1h-2zM782 267h2v1h-2zM784 268h3v1h-3zM787 269h2v1h-2zM1186 269h5v1h-5zM789 270h3v1h-3zM1182 270h4v1h-4zM1191 270h6v1h-6zM792 271h2v1h-2zM1180 271h2v1h-2zM1197 271h4v1h-4zM794 272h2v1h-2zM1178 272h2v1h-2zM1201 272h4v1h-4zM796 273h2v1h-2zM1176 273h2v1h-2zM1205 273h4v1h-4zM798 274h2v1h-2zM1209 274h3v1h-3zM1173 275h2v1h-2zM1212 275h2v1h-2zM801 276h2v1h-2zM1214 276h2v1h-2zM803 277h2v1h-2zM1216 277h2v1h-2zM1218 278h2v1h-2zM808 281h2v1h-2zM816 288h2v1h-2zM823 294h2v1h-2zM831 301h2v1h-2zM1091 389h2v1h-2zM1089 390h2v1h-2zM1087 391h2v1h-2zM1085 392h2v1h-2zM918 416h2v1h-2zM920 417h2v1h-2zM922 418h2v1h-2zM924 419h2v1h-2zM926 420h2v1h-2zM930 423h2v1h-2zM934 426h2v1h-2zM938 429h2v1h-2zM942 432h2v1h-2zM947 436h2v1h-2zM952 440h2v1h-2zM958 445h2v1h-2zM966 452h2v1h-2zM971 456h2v1h-2zM973 457h2v1h-2zM975 458h2v1h-2zM977 459h2v1h-2zM979 460h2v1h-2zM1025 460h2v1h-2zM981 461h2v1h-2zM1023 461h2v1h-2zM983 462h2v1h-2zM1021 462h2v1h-2zM985 463h2v1h-2zM1019 463h2v1h-2zM987 464h2v1h-2zM1017 464h2v1h-2zM989 465h4v1h-4zM1015 465h2v1h-2zM993 466h4v1h-4zM1013 466h2v1h-2zM997 467h4v1h-4zM1008 467h5v1h-5zM1001 468h7v1h-7zM20 63h1v1h-1zM21 64h1v1h-1zM22 65h1v1h-1zM23 66h1v1h-1zM24 67h1v1h-1zM25 68h1v1h-1zM26 69h1v1h-1zM27 70h1v1h-1zM28 71h1v1h-1zM29 72h1v1h-1zM30 73h1v1h-1zM31 74h1v1h-1zM34 76h1v1h-1zM35 77h1v1h-1zM36 78h1v1h-1zM37 79h1v1h-1zM38 80h1v1h-1zM39 81h1v1h-1zM40 82h1v1h-1zM41 83h1v1h-1zM44 85h1v1h-1zM45 86h1v1h-1zM46 87h1v1h-1zM47 88h1v1h-1zM48 89h1v1h-1zM49 90h1v1h-1zM50 91h1v1h-1zM51 92h1v1h-1zM54 94h1v1h-1zM55 95h1v1h-1zM56 96h1v1h-1zM57 97h1v1h-1zM58 98h1v1h-1zM59 99h1v1h-1zM60 100h1v1h-1zM61 101h1v1h-1zM62 102h1v1h-1zM63 103h1v2h-1zM64 105h1v1h-1zM65 106h1v1h-1zM66 107h1v1h-1zM67 108h1v1h-1zM68 109h1v1h-1zM69 110h1v1h-1zM70 111h1v1h-1zM71 112h1v1h-1zM72 113h1v2h-1zM73 115h1v1h-1zM74 116h1v1h-1zM75 117h1v1h-1zM76 118h1v1h-1zM77 119h1v1h-1zM78 120h1v1h-1zM79 121h1v1h-1zM80 122h1v1h-1zM81 123h1v2h-1zM82 125h1v1h-1zM83 126h1v1h-1zM84 127h1v1h-1zM85 128h1v2h-1zM86 130h1v2h-1zM87 132h1v2h-1zM88 134h1v2h-1zM89 136h1v2h-1zM90 138h1v2h-1zM91 140h1v2h-1zM92 142h1v1h-1zM93 143h1v2h-1zM94 145h1v1h-1zM95 146h1v1h-1zM96 147h1v2h-1zM97 149h1v1h-1zM98 150h1v1h-1zM99 151h1v2h-1zM100 153h1v1h-1zM101 154h1v1h-1zM102 155h1v2h-1zM103 157h1v1h-1zM104 158h1v1h-1zM105 159h1v2h-1zM106 161h1v1h-1zM107 162h1v1h-1zM108 163h1v2h-1zM109 165h1v1h-1zM110 166h1v1h-1zM111 167h1v2h-1zM112 169h1v1h-1zM113 170h1v1h-1zM114 171h1v2h-1zM141 179h1v1h-1zM142 180h1v1h-1zM145 182h1v1h-1zM146 183h1v1h-1zM147 184h1v1h-1zM148 185h1v1h-1zM149 186h1v1h-1zM150 187h1v1h-1zM153 189h1v1h-1zM154 190h1v1h-1zM155 191h1v1h-1zM156 192h1v1h-1zM157 193h1v1h-1zM158 194h1v2h-1zM159 196h1v1h-1zM160 197h1v1h-1zM161 198h1v1h-1zM162 199h1v1h-1zM163 200h1v1h-1zM164 201h1v2h-1zM165 203h1v1h-1zM166 204h1v1h-1zM167 205h1v1h-1zM168 206h1v1h-1zM169 207h1v2h-1zM170 209h1v1h-1zM171 210h1v1h-1zM172 211h1v1h-1zM300 195h1v1h-1zM301 194h1v1h-1zM304 192h1v1h-1zM305 191h1v1h-1zM306 190h1v1h-1zM309 188h1v1h-1zM310 187h1v1h-1zM311 186h1v1h-1zM314 184h1v1h-1zM315 183h1v1h-1zM316 182h1v1h-1zM317 180h1v2h-1zM318 179h1v1h-1zM319 178h1v1h-1zM320 177h1v1h-1zM321 175h1v2h-1zM322 174h1v1h-1zM323 173h1v1h-1zM324 172h1v1h-1zM327 170h1v1h-1zM328 169h1v1h-1zM331 167h1v1h-1zM340 162h1v1h-1zM341 161h1v1h-1zM342 160h1v1h-1zM343 159h1v1h-1zM344 158h1v1h-1zM345 157h1v1h-1zM346 156h1v1h-1zM349 154h1v1h-1zM350 153h1v1h-1zM351 152h1v1h-1zM352 151h1v1h-1zM353 150h1v1h-1zM354 149h1v1h-1zM547 136h1v1h-1zM548 135h1v1h-1zM549 134h1v1h-1zM550 133h1v1h-1zM553 131h1v1h-1zM554 130h1v1h-1zM555 129h1v1h-1zM556 128h1v1h-1zM557 127h1v1h-1zM558 126h1v1h-1zM561 124h1v1h-1zM562 123h1v1h-1zM622 132h1v1h-1zM627 135h1v1h-1zM630 137h1v1h-1zM635 140h1v1h-1zM636 141h1v1h-1zM639 143h1v1h-1zM640 144h1v1h-1zM641 145h1v1h-1zM644 147h1v1h-1zM645 148h1v1h-1zM646 149h1v1h-1zM649 151h1v1h-1zM650 152h1v1h-1zM651 153h1v1h-1zM654 155h1v1h-1zM655 156h1v1h-1zM656 157h1v1h-1zM659 159h1v1h-1zM660 160h1v1h-1zM663 162h1v1h-1zM664 163h1v1h-1zM667 165h1v1h-1zM668 166h1v1h-1zM671 168h1v1h-1zM672 169h1v1h-1zM675 171h1v1h-1zM678 173h1v1h-1zM679 174h1v1h-1zM682 176h1v1h-1zM691 181h1v1h-1zM692 182h1v1h-1zM693 183h1v1h-1zM694 184h1v1h-1zM695 185h1v2h-1zM696 187h1v1h-1zM697 188h1v1h-1zM698 189h1v1h-1zM699 190h1v1h-1zM700 191h1v1h-1zM701 192h1v1h-1zM702 193h1v1h-1zM703 194h1v1h-1zM704 195h1v2h-1zM705 197h1v1h-1zM706 198h1v1h-1zM707 199h1v1h-1zM708 200h1v1h-1zM709 201h1v2h-1zM710 203h1v2h-1zM711 205h1v1h-1zM712 206h1v2h-1zM713 208h1v2h-1zM714 210h1v1h-1zM715 211h1v2h-1zM716 213h1v2h-1zM717 215h1v1h-1zM718 216h1v2h-1zM719 218h1v2h-1zM720 220h1v1h-1zM721 221h1v1h-1zM722 222h1v1h-1zM723 223h1v1h-1zM724 224h1v1h-1zM725 225h1v1h-1zM726 226h1v1h-1zM727 227h1v1h-1zM728 228h1v2h-1zM729 230h1v1h-1zM730 231h1v1h-1zM731 232h1v1h-1zM732 233h1v1h-1zM733 234h1v1h-1zM734 235h1v1h-1zM735 236h1v1h-1zM744 241h1v1h-1zM751 245h1v1h-1zM760 250h1v1h-1zM761 251h1v1h-1zM764 253h1v1h-1zM765 254h1v1h-1zM766 255h1v1h-1zM769 257h1v1h-1zM770 258h1v1h-1zM771 259h1v1h-1zM774 261h1v1h-1zM775 262h1v1h-1zM776 263h1v1h-1zM779 265h1v1h-1zM800 275h1v1h-1zM805 278h1v1h-1zM806 279h1v1h-1zM807 280h1v1h-1zM810 282h1v1h-1zM811 283h1v1h-1zM812 284h1v1h-1zM813 285h1v1h-1zM814 286h1v1h-1zM815 287h1v1h-1zM818 289h1v1h-1zM819 290h1v1h-1zM820 291h1v1h-1zM821 292h1v1h-1zM822 293h1v1h-1zM825 295h1v1h-1zM826 296h1v1h-1zM827 297h1v1h-1zM828 298h1v1h-1zM829 299h1v1h-1zM830 300h1v1h-1zM833 302h1v1h-1zM834 303h1v1h-1zM835 304h1v1h-1zM836 305h1v2h-1zM837 307h1v2h-1zM838 309h1v1h-1zM839 310h1v2h-1zM840 312h1v2h-1zM841 314h1v1h-1zM842 315h1v2h-1zM843 317h1v2h-1zM844 319h1v1h-1zM845 320h1v2h-1zM846 322h1v2h-1zM847 324h1v1h-1zM848 325h1v2h-1zM849 327h1v2h-1zM850 329h1v1h-1zM851 330h1v2h-1zM852 332h1v1h-1zM853 333h1v1h-1zM854 334h1v2h-1zM855 336h1v1h-1zM856 337h1v2h-1zM857 339h1v1h-1zM858 340h1v1h-1zM859 341h1v2h-1zM860 343h1v1h-1zM861 344h1v2h-1zM862 346h1v1h-1zM863 347h1v1h-1zM864 348h1v2h-1zM865 350h1v1h-1zM866 351h1v2h-1zM867 353h1v1h-1zM868 354h1v2h-1zM869 356h1v1h-1zM870 357h1v2h-1zM871 359h1v1h-1zM872 360h1v2h-1zM873 362h1v1h-1zM874 363h1v1h-1zM875 364h1v2h-1zM876 366h1v1h-1zM877 367h1v2h-1zM878 369h1v1h-1zM879 370h1v2h-1zM880 372h1v1h-1zM881 373h1v2h-1zM882 375h1v1h-1zM883 376h1v1h-1zM884 377h1v1h-1zM885 378h1v2h-1zM886 380h1v1h-1zM887 381h1v1h-1zM888 382h1v1h-1zM889 383h1v1h-1zM890 384h1v1h-1zM891 385h1v2h-1zM892 387h1v1h-1zM893 388h1v1h-1zM894 389h1v1h-1zM895 390h1v1h-1zM896 391h1v1h-1zM897 392h1v2h-1zM898 394h1v1h-1zM899 395h1v1h-1zM900 396h1v1h-1zM901 397h1v1h-1zM902 398h1v1h-1zM903 399h1v1h-1zM904 400h1v2h-1zM905 402h1v1h-1zM906 403h1v1h-1zM907 404h1v1h-1zM908 405h1v1h-1zM909 406h1v1h-1zM910 407h1v1h-1zM911 408h1v1h-1zM912 409h1v1h-1zM913 410h1v2h-1zM914 412h1v1h-1zM915 413h1v1h-1zM916 414h1v1h-1zM917 415h1v1h-1zM928 421h1v1h-1zM929 422h1v1h-1zM932 424h1v1h-1zM933 425h1v1h-1zM936 427h1v1h-1zM937 428h1v1h-1zM940 430h1v1h-1zM941 431h1v1h-1zM944 433h1v1h-1zM945 434h1v1h-1zM946 435h1v1h-1zM949 437h1v1h-1zM950 438h1v1h-1zM951 439h1v1h-1zM954 441h1v1h-1zM955 442h1v1h-1zM956 443h1v1h-1zM957 444h1v1h-1zM960 446h1v1h-1zM961 447h1v1h-1zM962 448h1v1h-1zM963 449h1v1h-1zM964 450h1v1h-1zM965 451h1v1h-1zM968 453h1v1h-1zM969 454h1v1h-1zM970 455h1v1h-1zM1027 459h1v1h-1zM1028 457h1v2h-1zM1029 456h1v1h-1zM1030 455h1v1h-1zM1031 453h1v2h-1zM1032 452h1v1h-1zM1033 451h1v1h-1zM1034 449h1v2h-1zM1035 448h1v1h-1zM1036 447h1v1h-1zM1037 446h1v1h-1zM1038 444h1v2h-1zM1039 443h1v1h-1zM1040 442h1v1h-1zM1041 441h1v1h-1zM1042 440h1v1h-1zM1043 438h1v2h-1zM1044 437h1v1h-1zM1045 436h1v1h-1zM1046 435h1v1h-1zM1047 434h1v1h-1zM1048 432h1v2h-1zM1049 431h1v1h-1zM1050 430h1v1h-1zM1051 429h1v1h-1zM1052 428h1v1h-1zM1053 427h1v1h-1zM1054 426h1v1h-1zM1055 424h1v2h-1zM1056 423h1v1h-1zM1057 422h1v1h-1zM1058 421h1v1h-1zM1059 420h1v1h-1zM1060 419h1v1h-1zM1061 418h1v1h-1zM1062 417h1v1h-1zM1063 416h1v1h-1zM1064 415h1v1h-1zM1065 413h1v2h-1zM1066 412h1v1h-1zM1067 411h1v1h-1zM1068 410h1v1h-1zM1069 409h1v1h-1zM1070 408h1v1h-1zM1071 407h1v1h-1zM1072 406h1v1h-1zM1073 405h1v1h-1zM1074 404h1v1h-1zM1075 403h1v1h-1zM1076 402h1v1h-1zM1077 401h1v1h-1zM1078 399h1v2h-1zM1079 398h1v1h-1zM1080 397h1v1h-1zM1081 396h1v1h-1zM1082 395h1v1h-1zM1083 394h1v1h-1zM1084 393h1v1h-1zM1093 388h1v1h-1zM1094 387h1v1h-1zM1095 385h1v2h-1zM1096 384h1v1h-1zM1097 383h1v1h-1zM1098 382h1v1h-1zM1099 381h1v1h-1zM1100 380h1v1h-1zM1101 378h1v2h-1zM1102 377h1v1h-1zM1103 376h1v1h-1zM1104 375h1v1h-1zM1105 374h1v1h-1zM1106 373h1v1h-1zM1107 371h1v2h-1zM1108 370h1v1h-1zM1109 369h1v1h-1zM1110 368h1v1h-1zM1111 366h1v2h-1zM1112 365h1v1h-1zM1113 363h1v2h-1zM1114 361h1v2h-1zM1115 360h1v1h-1zM1116 358h1v2h-1zM1117 357h1v1h-1zM1118 355h1v2h-1zM1119 353h1v2h-1zM1120 352h1v1h-1zM1121 350h1v2h-1zM1122 349h1v1h-1zM1123 347h1v2h-1zM1124 345h1v2h-1zM1125 344h1v1h-1zM1126 342h1v2h-1zM1127 341h1v1h-1zM1128 339h1v2h-1zM1129 337h1v2h-1zM1130 336h1v1h-1zM1131 334h1v2h-1zM1132 333h1v1h-1zM1133 331h1v2h-1zM1134 329h1v2h-1zM1135 328h1v1h-1zM1136 326h1v2h-1zM1137 325h1v1h-1zM1138 323h1v2h-1zM1139 322h1v1h-1zM1140 320h1v2h-1zM1141 319h1v1h-1zM1142 317h1v2h-1zM1143 316h1v1h-1zM1144 314h1v2h-1zM1145 313h1v1h-1zM1146 311h1v2h-1zM1147 310h1v1h-1zM1148 308h1v2h-1zM1149 307h1v1h-1zM1150 305h1v2h-1zM1151 304h1v1h-1zM1152 302h1v2h-1zM1153 301h1v1h-1zM1154 299h1v2h-1zM1155 297h1v2h-1zM1156 296h1v1h-1zM1157 294h1v2h-1zM1158 293h1v1h-1zM1159 291h1v2h-1zM1160 290h1v1h-1zM1161 289h1v1h-1zM1162 288h1v1h-1zM1163 286h1v2h-1zM1164 285h1v1h-1zM1165 284h1v1h-1zM1166 283h1v1h-1zM1167 282h1v1h-1zM1168 281h1v1h-1zM1169 279h1v2h-1zM1170 278h1v1h-1zM1171 277h1v1h-1zM1172 276h1v1h-1zM1175 274h1v1h-1z" fill="#3CB371" shape-rendering="crispEdges"/>
<path d="M7 149h5v1h-5zM2 150h5v1h-5zM571 187h9v1h-9zM393 194h2v1h-2zM396 194h2v1h-2zM391 195h2v1h-2zM399 196h2v1h-2zM588 196h2v1h-2zM388 197h2v1h-2zM401 197h2v1h-2zM386 198h2v1h-2zM591 198h2v1h-2zM404 199h2v1h-2zM593 199h2v1h-2zM383 200h2v1h-2zM406 200h2v1h-2zM423 200h6v1h-6zM408 201h2v1h-2zM415 201h8v1h-8zM429 201h2v1h-2zM512 201h8v1h-8zM380 202h2v1h-2zM410 202h5v1h-5zM431 202h3v1h-3zM482 202h10v1h-10zM504 202h8v1h-8zM520 202h7v1h-7zM434 203h3v1h-3zM479 203h3v1h-3zM492 203h12v1h-12zM527 203h2v1h-2zM437 204h2v1h-2zM475 204h4v1h-4zM529 204h2v1h-2zM376 205h2v1h-2zM439 205h3v1h-3zM472 205h3v1h-3zM531 205h2v1h-2zM442 206h30v1h-30zM533 206h2v1h-2zM554 206h2v1h-2zM373 207h2v1h-2zM535 207h2v1h-2zM552 207h2v1h-2zM537 208h2v1h-2zM550 208h2v1h-2zM539 209h5v1h-5zM548 209h2v1h-2zM544 210h4v1h-4zM612 221h2v1h-2zM614 222h2v1h-2zM616 223h2v1h-2zM618 224h2v1h-2zM260 285h3v1h-3zM258 286h2v1h-2zM263 286h3v1h-3zM256 287h2v1h-2zM266 287h3v1h-3zM254 288h2v1h-2zM269 288h4v1h-4zM252 289h2v1h-2zM273 289h3v1h-3zM246 290h6v1h-6zM276 290h3v1h-3zM237 291h9v1h-9zM279 291h14v1h-14zM115 292h30v1h-30zM231 292h6v1h-6zM293 292h2v1h-2zM145 293h2v1h-2zM172 293h22v1h-22zM228 293h3v1h-3zM295 293h2v1h-2zM112 294h2v1h-2zM194 294h3v1h-3zM225 294h3v1h-3zM297 294h2v1h-2zM311 294h2v1h-2zM148 295h2v1h-2zM197 295h4v1h-4zM222 295h3v1h-3zM299 295h3v1h-3zM201 296h21v1h-21zM302 296h2v1h-2zM82 297h2v1h-2zM151 297h2v1h-2zM304 297h2v1h-2zM84 298h3v1h-3zM107 298h2v1h-2zM306 298h2v1h-2zM87 299h3v1h-3zM154 299h2v1h-2zM90 300h3v1h-3zM156 300h2v1h-2zM93 301h2v1h-2zM95 302h2v1h-2zM102 302h2v1h-2zM159 302h2v1h-2zM97 303h2v1h-2zM99 304h2v1h-2zM162 304h2v1h-2zM696 309h3v1h-3zM690 310h6v1h-6zM699 310h2v1h-2zM675 311h4v1h-4zM685 311h5v1h-5zM701 311h2v1h-2zM715 311h2v1h-2zM679 312h6v1h-6zM703 312h2v1h-2zM712 312h3v1h-3zM705 313h2v1h-2zM710 313h2v1h-2zM707 314h3v1h-3zM722 322h2v1h-2zM724 323h2v1h-2zM726 324h3v1h-3zM729 325h2v1h-2zM731 326h4v1h-4zM735 327h4v1h-4zM739 328h5v1h-5zM744 329h4v1h-4zM748 330h4v1h-4zM752 331h3v1h-3zM755 332h2v1h-2zM764 342h2v1h-2zM769 346h2v1h-2zM774 350h2v1h-2zM778 353h2v1h-2zM782 356h2v1h-2zM785 358h2v1h-2zM1191 358h2v1h-2zM787 359h2v1h-2zM789 360h3v1h-3zM792 361h2v1h-2zM794 362h2v1h-2zM796 363h2v1h-2zM1197 363h2v1h-2zM798 364h2v1h-2zM801 366h2v1h-2zM803 367h2v1h-2zM1203 368h2v1h-2zM1208 372h2v1h-2zM1215 378h2v1h-2zM841 432h2v1h-2zM1043 513h2v1h-2zM1067 542h2v1h-2zM1069 543h4v1h-4zM1073 544h3v1h-3zM1023 545h2v1h-2zM1076 545h2v1h-2zM1078 546h2v1h-2zM1080 547h2v1h-2zM1106 547h2v1h-2zM971 548h8v1h-8zM993 548h17v1h-17zM1082 548h3v1h-3zM1104 548h2v1h-2zM967 549h4v1h-4zM979 549h14v1h-14zM1010 549h10v1h-10zM1085 549h2v1h-2zM965 550h2v1h-2zM1087 550h2v1h-2zM1101 550h2v1h-2zM1089 551h2v1h-2zM1096 551h5v1h-5zM1091 552h5v1h-5zM953 561h2v1h-2zM949 564h2v1h-2zM946 565h3v1h-3zM942 566h4v1h-4zM891 567h2v1h-2zM938 567h4v1h-4zM933 568h5v1h-5zM928 569h5v1h-5zM895 570h2v1h-2zM923 570h5v1h-5zM918 571h5v1h-5zM898 572h2v1h-2zM914 572h4v1h-4zM900 573h4v1h-4zM910 573h4v1h-4zM904 574h6v1h-6zM12 150h1v1h-1zM13 151h1v1h-1zM14 152h1v1h-1zM15 153h1v2h-1zM16 155h1v1h-1zM17 156h1v1h-1zM18 157h1v1h-1zM19 158h1v2h-1zM20 160h1v2h-1zM21 162h1v2h-1zM22 164h1v2h-1zM23 166h1v2h-1zM24 168h1v2h-1zM25 170h1v2h-1zM26 172h1v1h-1zM27 173h1v2h-1zM28 175h1v2h-1zM29 177h1v1h-1zM30 178h1v2h-1zM31 180h1v1h-1zM32 181h1v2h-1zM33 183h1v2h-1zM34 185h1v2h-1zM35 187h1v2h-1zM36 189h1v3h-1zM37 192h1v2h-1zM38 194h1v3h-1zM39 197h1v2h-1zM40 199h1v3h-1zM41 202h1v2h-1zM42 204h1v3h-1zM43 207h1v2h-1zM44 209h1v3h-1zM45 212h1v2h-1zM46 214h1v3h-1zM47 217h1v2h-1zM48 219h1v3h-1zM49 222h1v2h-1zM50 224h1v2h-1zM51 226h1v2h-1zM52 228h1v2h-1zM53 230h1v2h-1zM54 232h1v2h-1zM55 234h1v2h-1zM56 236h1v2h-1zM57 238h1v2h-1zM58 240h1v2h-1zM59 242h1v2h-1zM60 244h1v3h-1zM61 247h1v3h-1zM62 250h1v3h-1zM63 253h1v3h-1zM64 256h1v2h-1zM65 258h1v3h-1zM66 261h1v3h-1zM67 264h1v3h-1zM68 267h1v3h-1zM69 270h1v2h-1zM70 272h1v2h-1zM71 274h1v2h-1zM72 276h1v2h-1zM73 278h1v2h-1zM74 280h1v2h-1zM75 282h1v2h-1zM76 284h1v2h-1zM77 286h1v2h-1zM78 288h1v2h-1zM79 290h1v2h-1zM80 292h1v2h-1zM81 294h1v2h-1zM82 296h1v1h-1zM101 303h1v1h-1zM104 301h1v1h-1zM105 300h1v1h-1zM106 299h1v1h-1zM109 297h1v1h-1zM110 296h1v1h-1zM111 295h1v1h-1zM114 293h1v1h-1zM147 294h1v1h-1zM150 296h1v1h-1zM153 298h1v1h-1zM158 301h1v1h-1zM161 303h1v1h-1zM164 305h1v1h-1zM165 303h1v2h-1zM166 302h1v1h-1zM167 300h1v2h-1zM168 299h1v1h-1zM169 297h1v2h-1zM170 296h1v1h-1zM171 294h1v2h-1zM308 297h1v1h-1zM309 296h1v1h-1zM310 295h1v1h-1zM313 293h1v1h-1zM314 292h1v1h-1zM315 291h1v1h-1zM316 290h1v1h-1zM317 289h1v1h-1zM318 288h1v1h-1zM319 287h1v1h-1zM320 286h1v1h-1zM321 285h1v1h-1zM322 284h1v1h-1zM323 282h1v2h-1zM324 281h1v1h-1zM325 280h1v1h-1zM326 279h1v1h-1zM327 278h1v1h-1zM328 277h1v1h-1zM329 276h1v1h-1zM330 275h1v1h-1zM331 274h1v1h-1zM332 272h1v2h-1zM333 271h1v1h-1zM334 270h1v1h-1zM335 268h1v2h-1zM336 267h1v1h-1zM337 266h1v1h-1zM338 264h1v2h-1zM339 263h1v1h-1zM340 262h1v1h-1zM341 260h1v2h-1zM342 259h1v1h-1zM343 258h1v1h-1zM344 256h1v2h-1zM345 255h1v1h-1zM346 253h1v2h-1zM347 251h1v2h-1zM348 250h1v1h-1zM349 248h1v2h-1zM350 246h1v2h-1zM351 244h1v2h-1zM352 243h1v1h-1zM353 241h1v2h-1zM354 239h1v2h-1zM355 238h1v1h-1zM356 236h1v2h-1zM357 234h1v2h-1zM358 232h1v2h-1zM359 230h1v2h-1zM360 228h1v2h-1zM361 226h1v2h-1zM362 224h1v2h-1zM363 222h1v2h-1zM364 220h1v2h-1zM365 218h1v2h-1zM366 216h1v2h-1zM367 215h1v1h-1zM368 214h1v1h-1zM369 212h1v2h-1zM370 211h1v1h-1zM371 209h1v2h-1zM372 208h1v1h-1zM375 206h1v1h-1zM378 204h1v1h-1zM379 203h1v1h-1zM382 201h1v1h-1zM385 199h1v1h-1zM390 196h1v1h-1zM395 193h1v1h-1zM398 195h1v1h-1zM403 198h1v1h-1zM556 204h1v2h-1zM557 203h1v1h-1zM558 202h1v1h-1zM559 200h1v2h-1zM560 199h1v1h-1zM561 198h1v1h-1zM562 196h1v2h-1zM563 195h1v1h-1zM564 194h1v1h-1zM565 193h1v1h-1zM566 192h1v1h-1zM567 191h1v1h-1zM568 190h1v1h-1zM569 189h1v1h-1zM570 188h1v1h-1zM580 188h1v1h-1zM581 189h1v1h-1zM582 190h1v1h-1zM583 191h1v1h-1zM584 192h1v1h-1zM585 193h1v1h-1zM586 194h1v1h-1zM587 195h1v1h-1zM590 197h1v1h-1zM595 200h1v1h-1zM596 201h1v1h-1zM597 202h1v2h-1zM598 204h1v1h-1zM599 205h1v1h-1zM600 206h1v1h-1zM601 207h1v2h-1zM602 209h1v1h-1zM603 210h1v1h-1zM604 211h1v1h-1zM605 212h1v2h-1zM606 214h1v1h-1zM607 215h1v1h-1zM608 216h1v1h-1zM609 217h1v2h-1zM610 219h1v1h-1zM611 220h1v1h-1zM619 225h1v1h-1zM620 226h1v2h-1zM621 228h1v2h-1zM622 230h1v3h-1zM623 233h1v2h-1zM624 235h1v2h-1zM625 237h1v3h-1zM626 240h1v2h-1zM627 242h1v2h-1zM628 244h1v2h-1zM629 246h1v2h-1zM630 248h1v2h-1zM631 250h1v1h-1zM632 251h1v2h-1zM633 253h1v2h-1zM634 255h1v1h-1zM635 256h1v2h-1zM636 258h1v1h-1zM637 259h1v2h-1zM638 261h1v2h-1zM639 263h1v1h-1zM640 264h1v2h-1zM641 266h1v2h-1zM642 268h1v1h-1zM643 269h1v1h-1zM644 270h1v1h-1zM645 271h1v2h-1zM646 273h1v1h-1zM647 274h1v1h-1zM648 275h1v1h-1zM649 276h1v1h-1zM650 277h1v1h-1zM651 278h1v2h-1zM652 280h1v1h-1zM653 281h1v1h-1zM654 282h1v1h-1zM655 283h1v1h-1zM656 284h1v2h-1zM657 286h1v1h-1zM658 287h1v1h-1zM659 288h1v1h-1zM660 289h1v1h-1zM661 290h1v1h-1zM662 291h1v2h-1zM663 293h1v1h-1zM664 294h1v1h-1zM665 295h1v1h-1zM666 296h1v2h-1zM667 298h1v1h-1zM668 299h1v2h-1zM669 301h1v2h-1zM670 303h1v1h-1zM671 304h1v2h-1zM672 306h1v1h-1zM673 307h1v2h-1zM674 309h1v2h-1zM717 312h1v2h-1zM718 314h1v2h-1zM719 316h1v2h-1zM720 318h1v2h-1zM721 320h1v2h-1zM757 333h1v1h-1zM758 334h1v2h-1zM759 336h1v1h-1zM760 337h1v1h-1zM761 338h1v2h-1zM762 340h1v1h-1zM763 341h1v1h-1zM766 343h1v1h-1zM767 344h1v1h-1zM768 345h1v1h-1zM771 347h1v1h-1zM772 348h1v1h-1zM773 349h1v1h-1zM776 351h1v1h-1zM777 352h1v1h-1zM780 354h1v1h-1zM781 355h1v1h-1zM784 357h1v1h-1zM800 365h1v1h-1zM805 368h1v1h-1zM806 369h1v2h-1zM807 371h1v1h-1zM808 372h1v1h-1zM809 373h1v2h-1zM810 375h1v1h-1zM811 376h1v2h-1zM812 378h1v2h-1zM813 380h1v2h-1zM814 382h1v2h-1zM815 384h1v3h-1zM816 387h1v2h-1zM817 389h1v2h-1zM818 391h1v3h-1zM819 394h1v2h-1zM820 396h1v3h-1zM821 399h1v2h-1zM822 401h1v3h-1zM823 404h1v3h-1zM824 407h1v2h-1zM825 409h1v2h-1zM826 411h1v2h-1zM827 413h1v1h-1zM828 414h1v2h-1zM829 416h1v2h-1zM830 418h1v1h-1zM831 419h1v2h-1zM832 421h1v1h-1zM833 422h1v2h-1zM834 424h1v2h-1zM835 426h1v1h-1zM836 427h1v1h-1zM837 428h1v1h-1zM838 429h1v1h-1zM839 430h1v1h-1zM840 431h1v1h-1zM843 433h1v1h-1zM844 434h1v1h-1zM845 435h1v1h-1zM846 436h1v1h-1zM847 437h1v1h-1zM848 438h1v1h-1zM849 439h1v2h-1zM850 441h1v2h-1zM851 443h1v2h-1zM852 445h1v2h-1zM853 447h1v2h-1zM854 449h1v1h-1zM855 450h1v2h-1zM856 452h1v2h-1zM857 454h1v2h-1zM858 456h1v2h-1zM859 458h1v2h-1zM860 460h1v2h-1zM861 462h1v4h-1zM862 466h1v4h-1zM863 470h1v4h-1zM864 474h1v4h-1zM865 478h1v4h-1zM866 482h1v4h-1zM867 486h1v4h-1zM868 490h1v5h-1zM869 495h1v4h-1zM870 499h1v4h-1zM871 503h1v4h-1zM872 507h1v5h-1zM873 512h1v4h-1zM874 516h1v4h-1zM875 520h1v5h-1zM876 525h1v4h-1zM877 529h1v4h-1zM878 533h1v4h-1zM879 537h1v5h-1zM880 542h1v4h-1zM881 546h1v4h-1zM882 550h1v3h-1zM883 553h1v2h-1zM884 555h1v2h-1zM885 557h1v2h-1zM886 559h1v1h-1zM887 560h1v2h-1zM888 562h1v2h-1zM889 564h1v2h-1zM890 566h1v1h-1zM893 568h1v1h-1zM894 569h1v1h-1zM897 571h1v1h-1zM951 563h1v1h-1zM952 562h1v1h-1zM955 560h1v1h-1zM956 559h1v1h-1zM957 558h1v1h-1zM958 557h1v1h-1zM959 556h1v1h-1zM960 555h1v1h-1zM961 554h1v1h-1zM962 553h1v1h-1zM963 552h1v1h-1zM964 551h1v1h-1zM1020 548h1v1h-1zM1021 547h1v1h-1zM1022 546h1v1h-1zM1025 544h1v1h-1zM1026 543h1v1h-1zM1027 542h1v1h-1zM1028 540h1v2h-1zM1029 539h1v1h-1zM1030 537h1v2h-1zM1031 536h1v1h-1zM1032 534h1v2h-1zM1033 533h1v1h-1zM1034 531h1v2h-1zM1035 529h1v2h-1zM1036 527h1v2h-1zM1037 525h1v2h-1zM1038 523h1v2h-1zM1039 520h1v3h-1zM1040 518h1v2h-1zM1041 516h1v2h-1zM1042 514h1v2h-1zM1043 512h1v1h-1zM1044 514h1v1h-1zM1045 515h1v1h-1zM1046 516h1v2h-1zM1047 518h1v1h-1zM1048 519h1v2h-1zM1049 521h1v1h-1zM1050 522h1v2h-1zM1051 524h1v1h-1zM1052 525h1v2h-1zM1053 527h1v1h-1zM1054 528h1v2h-1zM1055 530h1v1h-1zM1056 531h1v1h-1zM1057 532h1v1h-1zM1058 533h1v1h-1zM1059 534h1v1h-1zM1060 535h1v1h-1zM1061 536h1v1h-1zM1062 537h1v1h-1zM1063 538h1v1h-1zM1064 539h1v1h-1zM1065 540h1v1h-1zM1066 541h1v1h-1zM1103 549h1v1h-1zM1108 546h1v1h-1zM1109 545h1v1h-1zM1110 544h1v1h-1zM1111 543h1v1h-1zM1112 542h1v1h-1zM1113 541h1v1h-1zM1114 540h1v1h-1zM1115 539h1v1h-1zM1116 537h1v2h-1zM1117 536h1v1h-1zM1118 535h1v1h-1zM1119 534h1v1h-1zM1120 533h1v1h-1zM1121 532h1v1h-1zM1122 531h1v1h-1zM1123 530h1v1h-1zM1124 528h1v2h-1zM1125 527h1v1h-1zM1126 525h1v2h-1zM1127 523h1v2h-1zM1128 522h1v1h-1zM1129 520h1v2h-1zM1130 518h1v2h-1zM1131 516h1v2h-1zM1132 514h1v2h-1zM1133 512h1v2h-1zM1134 510h1v2h-1zM1135 508h1v2h-1zM1136 506h1v2h-1zM1137 504h1v2h-1zM1138 502h1v2h-1zM1139 500h1v2h-1zM1140 497h1v3h-1zM1141 494h1v3h-1zM1142 492h1v2h-1zM1143 489h1v3h-1zM1144 486h1v3h-1zM1145 484h1v2h-1zM1146 481h1v3h-1zM1147 478h1v3h-1zM1148 474h1v4h-1zM1149 470h1v4h-1zM1150 467h1v3h-1zM1151 463h1v4h-1zM1152 460h1v3h-1zM1153 456h1v4h-1zM1154 452h1v4h-1zM1155 449h1v3h-1zM1156 445h1v4h-1zM1157 441h1v4h-1zM1158 437h1v4h-1zM1159 434h1v3h-1zM1160 430h1v4h-1zM1161 426h1v4h-1zM1162 422h1v4h-1zM1163 419h1v3h-1zM1164 415h1v4h-1zM1165 411h1v4h-1zM1166 408h1v3h-1zM1167 405h1v3h-1zM1168 402h1v3h-1zM1169 398h1v4h-1zM1170 395h1v3h-1zM1171 392h1v3h-1zM1172 389h1v3h-1zM1173 386h1v3h-1zM1174 383h1v3h-1zM1175 380h1v3h-1zM1176 376h1v4h-1zM1177 373h1v3h-1zM1178 370h1v3h-1zM1179 367h1v3h-1zM1180 365h1v2h-1zM1181 363h1v2h-1zM1182 362h1v1h-1zM1183 360h1v2h-1zM1184 358h1v2h-1zM1185 357h1v1h-1zM1186 355h1v2h-1zM1187 354h1v1h-1zM1188 355h1v1h-1zM1189 356h1v1h-1zM1190 357h1v1h-1zM1193 359h1v1h-1zM1194 360h1v1h-1zM1195 361h1v1h-1zM1196 362h1v1h-1zM1199 364h1v1h-1zM1200 365h1v1h-1zM1201 366h1v1h-1zM1202 367h1v1h-1zM1205 369h1v1h-1zM1206 370h1v1h-1zM1207 371h1v1h-1zM1210 373h1v1h-1zM1211 374h1v1h-1zM1212 375h1v1h-1zM1213 376h1v1h-1zM1214 377h1v1h-1zM1217 379h1v1h-1zM1218 380h1v1h-1zM1219 381h1v1h-1z" fill="#3CB371" shape-rendering="crispEdges"/>
<path d="M1121 621h4v1h-4zM1137 621h3v1h-3zM1065 622h6v1h-6zM1098 622h2v1h-2zM1117 622h4v1h-4zM1125 622h4v1h-4zM1133 622h4v1h-4zM1140 622h2v1h-2zM1061 623h4v1h-4zM1071 623h6v1h-6zM1096 623h2v1h-2zM1100 623h2v1h-2zM1114 623h3v1h-3zM1129 623h4v1h-4zM1057 624h4v1h-4zM1077 624h2v1h-2zM1094 624h2v1h-2zM1102 624h2v1h-2zM1111 624h3v1h-3zM1143 624h2v1h-2zM1053 625h4v1h-4zM1079 625h3v1h-3zM1092 625h2v1h-2zM1104 625h2v1h-2zM1109 625h2v1h-2zM1145 625h2v1h-2zM1051 626h2v1h-2zM1082 626h10v1h-10zM1106 626h3v1h-3zM1147 626h2v1h-2zM1149 627h2v1h-2zM1151 628h3v1h-3zM1170 628h2v1h-2zM551 629h5v1h-5zM1047 629h2v1h-2zM1154 629h3v1h-3zM1168 629h2v1h-2zM321 630h3v1h-3zM543 630h8v1h-8zM1157 630h2v1h-2zM1166 630h2v1h-2zM1173 630h2v1h-2zM317 631h4v1h-4zM537 631h6v1h-6zM1159 631h3v1h-3zM1164 631h2v1h-2zM314 632h3v1h-3zM533 632h4v1h-4zM1162 632h2v1h-2zM274 633h3v1h-3zM299 633h2v1h-2zM311 633h3v1h-3zM531 633h2v1h-2zM559 633h2v1h-2zM1039 633h5v1h-5zM1177 633h2v1h-2zM272 634h2v1h-2zM277 634h4v1h-4zM301 634h4v1h-4zM309 634h2v1h-2zM484 634h2v1h-2zM1035 634h4v1h-4zM270 635h2v1h-2zM281 635h3v1h-3zM305 635h4v1h-4zM268 636h2v1h-2zM353 636h3v1h-3zM487 636h2v1h-2zM265 637h3v1h-3zM285 637h2v1h-2zM349 637h4v1h-4zM356 637h2v1h-2zM489 637h2v1h-2zM1031 637h2v1h-2zM261 638h4v1h-4zM346 638h3v1h-3zM358 638h2v1h-2zM491 638h9v1h-9zM255 639h6v1h-6zM343 639h3v1h-3zM360 639h2v1h-2zM500 639h2v1h-2zM514 639h3v1h-3zM247 640h8v1h-8zM289 640h2v1h-2zM341 640h2v1h-2zM362 640h3v1h-3zM502 640h2v1h-2zM511 640h3v1h-3zM517 640h2v1h-2zM243 641h4v1h-4zM335 641h6v1h-6zM365 641h2v1h-2zM425 641h2v1h-2zM465 641h6v1h-6zM504 641h2v1h-2zM509 641h2v1h-2zM519 641h3v1h-3zM1018 641h10v1h-10zM123 642h2v1h-2zM218 642h5v1h-5zM241 642h2v1h-2zM331 642h4v1h-4zM367 642h3v1h-3zM461 642h4v1h-4zM471 642h5v1h-5zM506 642h3v1h-3zM522 642h2v1h-2zM1016 642h2v1h-2zM125 643h4v1h-4zM216 643h2v1h-2zM223 643h5v1h-5zM370 643h5v1h-5zM457 643h4v1h-4zM687 643h5v1h-5zM1014 643h2v1h-2zM9 644h3v1h-3zM129 644h3v1h-3zM214 644h2v1h-2zM228 644h2v1h-2zM375 644h5v1h-5zM421 644h2v1h-2zM453 644h4v1h-4zM683 644h4v1h-4zM930 644h2v1h-2zM1012 644h2v1h-2zM5 645h4v1h-4zM132 645h2v1h-2zM212 645h2v1h-2zM230 645h2v1h-2zM237 645h2v1h-2zM380 645h2v1h-2zM447 645h6v1h-6zM927 645h3v1h-3zM1009 645h3v1h-3zM3 646h2v1h-2zM134 646h2v1h-2zM232 646h2v1h-2zM441 646h6v1h-6zM925 646h2v1h-2zM1005 646h4v1h-4zM136 647h2v1h-2zM234 647h2v1h-2zM383 647h2v1h-2zM417 647h2v1h-2zM437 647h4v1h-4zM923 647h2v1h-2zM1003 647h2v1h-2zM138 648h2v1h-2zM385 648h2v1h-2zM415 648h2v1h-2zM435 648h2v1h-2zM140 649h2v1h-2zM114 650h2v1h-2zM142 650h2v1h-2zM185 650h4v1h-4zM388 650h2v1h-2zM412 650h2v1h-2zM571 650h9v1h-9zM751 650h5v1h-5zM112 651h2v1h-2zM144 651h2v1h-2zM181 651h4v1h-4zM189 651h2v1h-2zM390 651h2v1h-2zM409 651h3v1h-3zM745 651h6v1h-6zM961 651h2v1h-2zM1211 651h9v1h-9zM110 652h2v1h-2zM146 652h2v1h-2zM177 652h4v1h-4zM191 652h3v1h-3zM392 652h2v1h-2zM405 652h4v1h-4zM741 652h4v1h-4zM939 652h9v1h-9zM965 652h2v1h-2zM108 653h2v1h-2zM173 653h4v1h-4zM194 653h3v1h-3zM394 653h11v1h-11zM737 653h4v1h-4zM794 653h3v1h-3zM948 653h2v1h-2zM149 654h2v1h-2zM171 654h2v1h-2zM197 654h4v1h-4zM733 654h4v1h-4zM792 654h2v1h-2zM797 654h4v1h-4zM950 654h2v1h-2zM957 654h2v1h-2zM977 654h12v1h-12zM1207 654h2v1h-2zM19 655h2v1h-2zM169 655h2v1h-2zM201 655h3v1h-3zM731 655h2v1h-2zM790 655h2v1h-2zM801 655h3v1h-3zM898 655h18v1h-18zM952 655h2v1h-2zM969 655h2v1h-2zM973 655h4v1h-4zM989 655h4v1h-4zM1188 655h2v1h-2zM21 656h4v1h-4zM31 656h5v1h-5zM665 656h2v1h-2zM769 656h4v1h-4zM788 656h2v1h-2zM804 656h2v1h-2zM895 656h3v1h-3zM954 656h2v1h-2zM971 656h2v1h-2zM993 656h3v1h-3zM1190 656h2v1h-2zM25 657h6v1h-6zM57 657h2v1h-2zM103 657h2v1h-2zM153 657h2v1h-2zM669 657h2v1h-2zM765 657h4v1h-4zM773 657h4v1h-4zM783 657h5v1h-5zM806 657h2v1h-2zM893 657h2v1h-2zM1192 657h2v1h-2zM37 658h2v1h-2zM55 658h2v1h-2zM61 658h2v1h-2zM89 658h4v1h-4zM155 658h2v1h-2zM165 658h2v1h-2zM587 658h4v1h-4zM641 658h4v1h-4zM713 658h3v1h-3zM763 658h2v1h-2zM777 658h6v1h-6zM808 658h2v1h-2zM891 658h2v1h-2zM1194 658h10v1h-10zM85 659h4v1h-4zM93 659h2v1h-2zM157 659h4v1h-4zM591 659h8v1h-8zM637 659h4v1h-4zM645 659h4v1h-4zM661 659h2v1h-2zM709 659h4v1h-4zM810 659h2v1h-2zM52 660h2v1h-2zM73 660h12v1h-12zM95 660h3v1h-3zM161 660h3v1h-3zM599 660h13v1h-13zM633 660h4v1h-4zM649 660h6v1h-6zM673 660h3v1h-3zM707 660h2v1h-2zM717 660h2v1h-2zM41 661h2v1h-2zM47 661h5v1h-5zM65 661h2v1h-2zM69 661h4v1h-4zM98 661h2v1h-2zM629 661h4v1h-4zM655 661h5v1h-5zM43 662h4v1h-4zM67 662h2v1h-2zM627 662h2v1h-2zM721 663h2v1h-2zM815 663h2v1h-2zM831 663h6v1h-6zM825 664h6v1h-6zM837 664h4v1h-4zM821 665h4v1h-4zM841 665h3v1h-3zM819 666h2v1h-2zM844 666h2v1h-2zM846 667h2v1h-2zM848 668h2v1h-2zM850 669h3v1h-3zM853 670h2v1h-2zM855 671h3v1h-3zM858 672h2v1h-2zM860 673h2v1h-2zM862 674h2v1h-2zM864 675h2v1h-2zM866 676h3v1h-3zM869 677h4v1h-4zM873 678h11v1h-11zM12 645h1v2h-1zM13 647h1v1h-1zM14 648h1v1h-1zM15 649h1v2h-1zM16 651h1v1h-1zM17 652h1v1h-1zM18 653h1v2h-1zM36 657h1v1h-1zM39 659h1v1h-1zM40 660h1v1h-1zM54 659h1v1h-1zM59 656h1v1h-1zM60 657h1v1h-1zM63 659h1v1h-1zM64 660h1v1h-1zM100 660h1v1h-1zM101 659h1v1h-1zM102 658h1v1h-1zM105 656h1v1h-1zM106 655h1v1h-1zM107 654h1v1h-1zM116 649h1v1h-1zM117 648h1v1h-1zM118 647h1v1h-1zM119 646h1v1h-1zM120 645h1v1h-1zM121 644h1v1h-1zM122 643h1v1h-1zM148 653h1v1h-1zM151 655h1v1h-1zM152 656h1v1h-1zM164 659h1v1h-1zM167 657h1v1h-1zM168 656h1v1h-1zM204 654h1v1h-1zM205 653h1v1h-1zM206 652h1v1h-1zM207 650h1v2h-1zM208 649h1v1h-1zM209 648h1v1h-1zM210 647h1v1h-1zM211 646h1v1h-1zM236 646h1v1h-1zM239 644h1v1h-1zM240 643h1v1h-1zM284 636h1v1h-1zM287 638h1v1h-1zM288 639h1v1h-1zM291 641h1v1h-1zM292 640h1v1h-1zM293 639h1v1h-1zM294 638h1v1h-1zM295 637h1v1h-1zM296 636h1v1h-1zM297 635h1v1h-1zM298 634h1v1h-1zM324 631h1v2h-1zM325 633h1v1h-1zM326 634h1v2h-1zM327 636h1v1h-1zM328 637h1v2h-1zM329 639h1v1h-1zM330 640h1v2h-1zM382 646h1v1h-1zM387 649h1v1h-1zM414 649h1v1h-1zM419 646h1v1h-1zM420 645h1v1h-1zM423 643h1v1h-1zM424 642h1v1h-1zM427 640h1v1h-1zM428 641h1v1h-1zM429 642h1v1h-1zM430 643h1v1h-1zM431 644h1v1h-1zM432 645h1v1h-1zM433 646h1v1h-1zM434 647h1v1h-1zM476 641h1v1h-1zM477 640h1v1h-1zM478 639h1v1h-1zM479 637h1v2h-1zM480 636h1v1h-1zM481 635h1v1h-1zM482 634h1v1h-1zM483 633h1v1h-1zM486 635h1v1h-1zM524 641h1v1h-1zM525 640h1v1h-1zM526 639h1v1h-1zM527 637h1v2h-1zM528 636h1v1h-1zM529 635h1v1h-1zM530 634h1v1h-1zM556 630h1v1h-1zM557 631h1v1h-1zM558 632h1v1h-1zM561 634h1v1h-1zM562 635h1v1h-1zM563 636h1v1h-1zM564 637h1v2h-1zM565 639h1v2h-1zM566 641h1v2h-1zM567 643h1v1h-1zM568 644h1v2h-1zM569 646h1v2h-1zM570 648h1v2h-1zM580 651h1v1h-1zM581 652h1v1h-1zM582 653h1v1h-1zM583 654h1v1h-1zM584 655h1v1h-1zM585 656h1v1h-1zM586 657h1v1h-1zM612 659h1v1h-1zM613 658h1v1h-1zM614 657h1v1h-1zM615 656h1v1h-1zM616 655h1v1h-1zM617 654h1v1h-1zM618 653h1v1h-1zM619 652h1v1h-1zM620 653h1v1h-1zM621 654h1v2h-1zM622 656h1v1h-1zM623 657h1v1h-1zM624 658h1v1h-1zM625 659h1v2h-1zM626 661h1v1h-1zM660 660h1v1h-1zM663 658h1v1h-1zM664 657h1v1h-1zM667 655h1v1h-1zM668 656h1v1h-1zM671 658h1v1h-1zM672 659h1v1h-1zM675 661h1v1h-1zM676 658h1v2h-1zM677 656h1v2h-1zM678 654h1v2h-1zM679 652h1v2h-1zM680 650h1v2h-1zM681 648h1v2h-1zM682 646h1v2h-1zM683 645h1v1h-1zM692 644h1v1h-1zM693 645h1v1h-1zM694 646h1v1h-1zM695 647h1v2h-1zM696 649h1v1h-1zM697 650h1v1h-1zM698 651h1v1h-1zM699 652h1v1h-1zM700 653h1v1h-1zM701 654h1v1h-1zM702 655h1v1h-1zM703 656h1v1h-1zM704 657h1v1h-1zM705 658h1v1h-1zM706 659h1v1h-1zM716 659h1v1h-1zM719 661h1v1h-1zM720 662h1v1h-1zM723 664h1v1h-1zM724 663h1v1h-1zM725 662h1v1h-1zM726 661h1v1h-1zM727 659h1v2h-1zM728 658h1v1h-1zM729 657h1v1h-1zM730 656h1v1h-1zM756 651h1v1h-1zM757 652h1v1h-1zM758 653h1v1h-1zM759 654h1v1h-1zM760 655h1v1h-1zM761 656h1v1h-1zM762 657h1v1h-1zM812 660h1v1h-1zM813 661h1v1h-1zM814 662h1v1h-1zM817 664h1v1h-1zM818 665h1v1h-1zM883 677h1v1h-1zM884 675h1v2h-1zM885 672h1v3h-1zM886 670h1v2h-1zM887 667h1v3h-1zM888 665h1v2h-1zM889 662h1v3h-1zM890 660h1v2h-1zM891 659h1v1h-1zM916 654h1v1h-1zM917 653h1v1h-1zM918 652h1v1h-1zM919 651h1v1h-1zM920 650h1v1h-1zM921 649h1v1h-1zM922 648h1v1h-1zM932 645h1v1h-1zM933 646h1v1h-1zM934 647h1v1h-1zM935 648h1v1h-1zM936 649h1v1h-1zM937 650h1v1h-1zM938 651h1v1h-1zM956 655h1v1h-1zM959 653h1v1h-1zM960 652h1v1h-1zM963 650h1v1h-1zM964 651h1v1h-1zM967 653h1v1h-1zM968 654h1v1h-1zM996 655h1v1h-1zM997 654h1v1h-1zM998 653h1v1h-1zM999 651h1v2h-1zM1000 650h1v1h-1zM1001 649h1v1h-1zM1002 648h1v1h-1zM1028 640h1v1h-1zM1029 639h1v1h-1zM1030 638h1v1h-1zM1033 636h1v1h-1zM1034 635h1v1h-1zM1044 632h1v1h-1zM1045 631h1v1h-1zM1046 630h1v1h-1zM1049 628h1v1h-1zM1050 627h1v1h-1zM1142 623h1v1h-1zM1172 629h1v1h-1zM1175 631h1v1h-1zM1176 632h1v1h-1zM1179 634h1v2h-1zM1180 636h1v2h-1zM1181 638h1v3h-1zM1182 641h1v2h-1zM1183 643h1v3h-1zM1184 646h1v2h-1zM1185 648h1v3h-1zM1186 651h1v2h-1zM1187 653h1v2h-1zM1204 657h1v1h-1zM1205 656h1v1h-1zM1206 655h1v1h-1zM1209 653h1v1h-1zM1210 652h1v1h-1z" fill="#1E90FF" shape-rendering="crispEdges"/>
<g shape-rendering="crispEdges">
<rect x="2" y="2" width="1239" height="1" fill="#00008B"/>
<rect x="2" y="2" width="1" height="586" fill="#00008B"/>
<rect x="2" y="587" width="1239" height="1" fill="#00008B"/>
<rect x="1240" y="2" width="1" height="586" fill="#00008B"/>
<rect x="2" y="589" width="1239" height="1" fill="#00008B"/>
<rect x="2" y="589" width="1" height="111" fill="#00008B"/>
<rect x="1240" y="589" width="1" height="111" fill="#00008B"/>
<rect x="2" y="699" width="1239" height="1" fill="#00008B"/>
<rect x="1241" y="28" width="2" height="1" fill="#00008B"/>
<rect x="1241" y="63" width="2" height="1" fill="#00008B"/>
<rect x="1241" y="97" width="2" height="1" fill="#00008B"/>
<rect x="1241" y="132" width="2" height="1" fill="#00008B"/>
<rect x="1241" y="167" width="2" height="1" fill="#00008B"/>
<rect x="1241" y="201" width="2" height="1" fill="#00008B"/>
<rect x="1241" y="236" width="2" height="1" fill="#00008B"/>
<rect x="1241" y="270" width="2" height="1" fill="#00008B"/>
<rect x="1241" y="305" width="2" height="1" fill="#00008B"/>
<rect x="1241" y="339" width="2" height="1" fill="#00008B"/>
<rect x="1241" y="374" width="2" height="1" fill="#00008B"/>
<rect x="1241" y="409" width="2" height="1" fill="#00008B"/>
<rect x="1241" y="443" width="2" height="1" fill="#00008B"/>
<rect x="1241" y="478" width="2" height="1" fill="#00008B"/>
<rect x="1241" y="512" width="2" height="1" fill="#00008B"/>
<rect x="1241" y="547" width="2" height="1" fill="#00008B"/>
<rect x="1241" y="582" width="2" height="1" fill="#00008B"/>
<rect x="1241" y="591" width="1" height="1" fill="#00008B"/>
<rect x="1241" y="623" width="1" height="1" fill="#00008B"/>
<rect x="1241" y="666" width="1" height="1" fill="#00008B"/>
<rect x="3" y="700" width="1" height="3" fill="#00008B"/>
<rect x="67" y="700" width="1" height="3" fill="#00008B"/>
<rect x="131" y="700" width="1" height="3" fill="#00008B"/>
<rect x="195" y="700" width="1" height="3" fill="#00008B"/>
<rect x="259" y="700" width="1" height="3" fill="#00008B"/>
<rect x="323" y="700" width="1" height="3" fill="#00008B"/>
<rect x="387" y="700" width="1" height="3" fill="#00008B"/>
<rect x="451" y="700" width="1" height="3" fill="#00008B"/>
<rect x="515" y="700" width="1" height="3" fill="#00008B"/>
<rect x="579" y="700" width="1" height="3" fill="#00008B"/>
<rect x="643" y="700" width="1" height="3" fill="#00008B"/>
<rect x="707" y="700" width="1" height="3" fill="#00008B"/>
<rect x="771" y="700" width="1" height="3" fill="#00008B"/>
<rect x="835" y="700" width="1" height="3" fill="#00008B"/>
<rect x="899" y="700" width="1" height="3" fill="#00008B"/>
<rect x="963" y="700" width="1" height="3" fill="#00008B"/>
<rect x="1027" y="700" width="1" height="3" fill="#00008B"/>
<rect x="1091" y="700" width="1" height="3" fill="#00008B"/>
<rect x="1155" y="700" width="1" height="3" fill="#00008B"/>
<rect x="1219" y="700" width="1" height="3" fill="#00008B"/>
<rect x="1242" y="331" width="31" height="11" fill="#FF0000"/>
<rect x="1242" y="342" width="31" height="11" fill="#000080"/>
<path d="M6 9H13L9.5 13Z" fill="#00008B" shape-rendering="auto"/>
</g>
<g font-family="Liberation Sans, sans-serif" font-size="9.8px" text-rendering="geometricPrecision" fill="#00008B" stroke="#00008B" stroke-width="0.12">
<text x="18.5" y="14" textLength="52.83" lengthAdjust="spacingAndGlyphs">#BRENT,H4</text>
<text x="77" y="14" textLength="100.84" lengthAdjust="spacingAndGlyphs">60.73 60.95 60.70 60.72</text>
<text x="7.2" y="602" textLength="68.24" lengthAdjust="spacingAndGlyphs">RSI(14) 44.4797</text>
<text x="1246.1" y="32" textLength="22.77" lengthAdjust="spacingAndGlyphs">63.95</text>
<text x="1246.1" y="67" textLength="22.77" lengthAdjust="spacingAndGlyphs">63.60</text>
<text x="1246.1" y="101" textLength="22.77" lengthAdjust="spacingAndGlyphs">63.25</text>
<text x="1246.1" y="136" textLength="22.77" lengthAdjust="spacingAndGlyphs">62.90</text>
<text x="1246.1" y="171" textLength="22.77" lengthAdjust="spacingAndGlyphs">62.55</text>
<text x="1246.1" y="205" textLength="22.77" lengthAdjust="spacingAndGlyphs">62.20</text>
<text x="1246.1" y="240" textLength="22.77" lengthAdjust="spacingAndGlyphs">61.85</text>
<text x="1246.1" y="274" textLength="22.77" lengthAdjust="spacingAndGlyphs">61.50</text>
<text x="1246.1" y="309" textLength="22.77" lengthAdjust="spacingAndGlyphs">61.15</text>
<text x="1246.1" y="378" textLength="22.77" lengthAdjust="spacingAndGlyphs">60.45</text>
<text x="1246.1" y="413" textLength="22.77" lengthAdjust="spacingAndGlyphs">60.10</text>
<text x="1246.1" y="447" textLength="22.77" lengthAdjust="spacingAndGlyphs">59.75</text>
<text x="1246.1" y="482" textLength="22.77" lengthAdjust="spacingAndGlyphs">59.40</text>
<text x="1246.1" y="516" textLength="22.77" lengthAdjust="spacingAndGlyphs">59.05</text>
<text x="1246.1" y="551" textLength="22.77" lengthAdjust="spacingAndGlyphs">58.70</text>
<text x="1246.1" y="586" textLength="22.77" lengthAdjust="spacingAndGlyphs">58.35</text>
<text x="1246.1" y="340" textLength="22.77" lengthAdjust="spacingAndGlyphs" fill="#fff" stroke="#fff">60.84</text>
<text x="1246.1" y="351" textLength="22.77" lengthAdjust="spacingAndGlyphs" fill="#fff" stroke="#fff">60.72</text>
<text x="1243.7" y="600" textLength="15.52" lengthAdjust="spacingAndGlyphs">100</text>
<text x="1243.5" y="627" textLength="10.34" lengthAdjust="spacingAndGlyphs">70</text>
<text x="1243.5" y="670" textLength="10.34" lengthAdjust="spacingAndGlyphs">30</text>
<text x="1243.7" y="696" textLength="5.17" lengthAdjust="spacingAndGlyphs">0</text>
<text x="2" y="712" textLength="53.87" lengthAdjust="spacingAndGlyphs">20 Nov 2025</text>
<text x="66" y="712" textLength="55.62" lengthAdjust="spacingAndGlyphs">21 Nov 15:00</text>
<text x="130" y="712" textLength="55.62" lengthAdjust="spacingAndGlyphs">24 Nov 23:00</text>
<text x="194" y="712" textLength="55.62" lengthAdjust="spacingAndGlyphs">26 Nov 07:00</text>
<text x="258" y="712" textLength="55.62" lengthAdjust="spacingAndGlyphs">27 Nov 15:00</text>
<text x="322" y="712" textLength="50.42" lengthAdjust="spacingAndGlyphs">1 Dec 07:00</text>
<text x="386" y="712" textLength="50.42" lengthAdjust="spacingAndGlyphs">2 Dec 15:00</text>
<text x="450" y="712" textLength="50.42" lengthAdjust="spacingAndGlyphs">3 Dec 23:00</text>
<text x="514" y="712" textLength="50.42" lengthAdjust="spacingAndGlyphs">5 Dec 07:00</text>
<text x="578" y="712" textLength="50.42" lengthAdjust="spacingAndGlyphs">8 Dec 15:00</text>
<text x="642" y="712" textLength="50.42" lengthAdjust="spacingAndGlyphs">9 Dec 23:00</text>
<text x="706" y="712" textLength="54.93" lengthAdjust="spacingAndGlyphs">11 Dec 07:00</text>
<text x="770" y="712" textLength="55.62" lengthAdjust="spacingAndGlyphs">12 Dec 15:00</text>
<text x="834" y="712" textLength="55.62" lengthAdjust="spacingAndGlyphs">15 Dec 23:00</text>
<text x="898" y="712" textLength="55.62" lengthAdjust="spacingAndGlyphs">17 Dec 07:00</text>
<text x="962" y="712" textLength="55.62" lengthAdjust="spacingAndGlyphs">18 Dec 15:00</text>
<text x="1026" y="712" textLength="55.62" lengthAdjust="spacingAndGlyphs">19 Dec 23:00</text>
<text x="1090" y="712" textLength="55.62" lengthAdjust="spacingAndGlyphs">23 Dec 07:00</text>
<text x="1154" y="712" textLength="55.62" lengthAdjust="spacingAndGlyphs">24 Dec 15:00</text>
<text x="1218" y="712" textLength="55.62" lengthAdjust="spacingAndGlyphs">29 Dec 07:00</text>
</g>
</svg>
</body></html>
